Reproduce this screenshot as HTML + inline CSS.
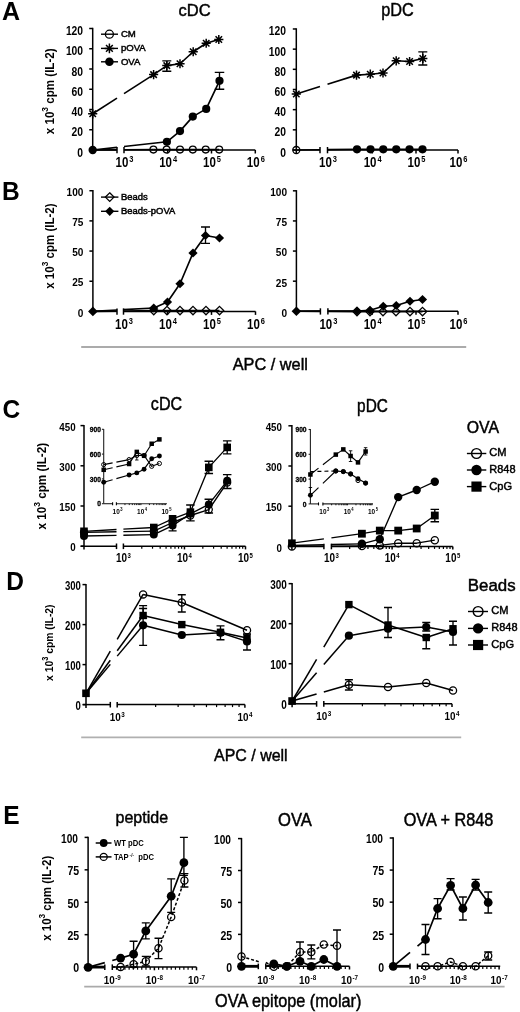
<!DOCTYPE html>
<html><head><meta charset="utf-8"><style>
html,body{margin:0;padding:0;background:#fff;}
svg{display:block;filter:grayscale(1);font-family:"Liberation Sans",sans-serif;}
</style></head><body>
<svg width="520" height="1012" viewBox="0 0 520 1012">
<rect width="520" height="1012" fill="#fff"/>
<text transform="translate(2,20.3)" font-size="25" font-weight="bold" text-anchor="start" fill="#000">A</text>
<text transform="translate(1.9,199.8) scale(0.98,1.0)" font-size="25" font-weight="bold" text-anchor="start" fill="#000">B</text>
<text transform="translate(2.4,418.2) scale(0.98,1.0)" font-size="25" font-weight="bold" text-anchor="start" fill="#000">C</text>
<text transform="translate(6.2,590.3) scale(0.98,1.0)" font-size="25" font-weight="bold" text-anchor="start" fill="#000">D</text>
<text transform="translate(3.3,823.5) scale(0.98,1.0)" font-size="25" font-weight="bold" text-anchor="start" fill="#000">E</text>
<line x1="92.7" y1="27.8" x2="92.7" y2="150" stroke="#000" stroke-width="1.5"/>
<line x1="89.2" y1="150" x2="92.7" y2="150" stroke="#000" stroke-width="1.5"/>
<line x1="89.2" y1="129.75" x2="92.7" y2="129.75" stroke="#000" stroke-width="1.5"/>
<line x1="89.2" y1="109.5" x2="92.7" y2="109.5" stroke="#000" stroke-width="1.5"/>
<line x1="89.2" y1="89.25" x2="92.7" y2="89.25" stroke="#000" stroke-width="1.5"/>
<line x1="89.2" y1="69" x2="92.7" y2="69" stroke="#000" stroke-width="1.5"/>
<line x1="89.2" y1="48.75" x2="92.7" y2="48.75" stroke="#000" stroke-width="1.5"/>
<line x1="89.2" y1="28.5" x2="92.7" y2="28.5" stroke="#000" stroke-width="1.5"/>
<text transform="translate(83.1,156.5) scale(0.86,1.0)" font-size="12" font-weight="bold" text-anchor="end" fill="#000">0</text>
<text transform="translate(83.1,136.25) scale(0.86,1.0)" font-size="12" font-weight="bold" text-anchor="end" fill="#000">20</text>
<text transform="translate(83.1,116) scale(0.86,1.0)" font-size="12" font-weight="bold" text-anchor="end" fill="#000">40</text>
<text transform="translate(83.1,95.75) scale(0.86,1.0)" font-size="12" font-weight="bold" text-anchor="end" fill="#000">60</text>
<text transform="translate(83.1,75.5) scale(0.86,1.0)" font-size="12" font-weight="bold" text-anchor="end" fill="#000">80</text>
<text transform="translate(83.1,55.25) scale(0.86,1.0)" font-size="12" font-weight="bold" text-anchor="end" fill="#000">100</text>
<text transform="translate(83.1,35) scale(0.86,1.0)" font-size="12" font-weight="bold" text-anchor="end" fill="#000">120</text>
<line x1="89.7" y1="150" x2="117" y2="150" stroke="#000" stroke-width="1.5"/>
<line x1="124" y1="150" x2="255.3" y2="150" stroke="#000" stroke-width="1.5"/>
<line x1="117" y1="147" x2="117" y2="153.3" stroke="#000" stroke-width="1.5"/>
<line x1="124" y1="147" x2="124" y2="153.3" stroke="#000" stroke-width="1.5"/>
<line x1="167.7" y1="150" x2="167.7" y2="153.5" stroke="#000" stroke-width="1.5"/>
<line x1="211.5" y1="150" x2="211.5" y2="153.5" stroke="#000" stroke-width="1.5"/>
<line x1="255.3" y1="150" x2="255.3" y2="153.5" stroke="#000" stroke-width="1.5"/>
<text transform="translate(115.52,167.35) scale(0.8,1.0)" font-size="14.4" font-weight="bold" text-anchor="start" fill="#000">10</text>
<text transform="translate(129.33,162.15) scale(0.85,1.0)" font-size="8.8" font-weight="bold" text-anchor="start" fill="#000">3</text>
<text transform="translate(159.22,167.35) scale(0.8,1.0)" font-size="14.4" font-weight="bold" text-anchor="start" fill="#000">10</text>
<text transform="translate(173.03,162.15) scale(0.85,1.0)" font-size="8.8" font-weight="bold" text-anchor="start" fill="#000">4</text>
<text transform="translate(203.02,167.35) scale(0.8,1.0)" font-size="14.4" font-weight="bold" text-anchor="start" fill="#000">10</text>
<text transform="translate(216.83,162.15) scale(0.85,1.0)" font-size="8.8" font-weight="bold" text-anchor="start" fill="#000">5</text>
<text transform="translate(246.82,167.35) scale(0.8,1.0)" font-size="14.4" font-weight="bold" text-anchor="start" fill="#000">10</text>
<text transform="translate(260.63,162.15) scale(0.85,1.0)" font-size="8.8" font-weight="bold" text-anchor="start" fill="#000">6</text>
<text transform="translate(54.2,91.3) rotate(-90)" font-size="13.6" font-weight="bold" text-anchor="middle" textLength="85.8" lengthAdjust="spacingAndGlyphs">x 10<tspan font-size="9.79" dy="-5.71">3</tspan><tspan dy="5.71"> cpm (IL-2)</tspan></text>
<text transform="translate(194.6,16.2)" font-size="16.5" stroke="#000" stroke-width="0.45" text-anchor="middle" fill="#000">cDC</text>
<polyline points="92.7,150 117,149.84" fill="none" stroke="#000" stroke-width="1.65" stroke-linejoin="round"/>
<polyline points="124,149.79 153.4,149.6" fill="none" stroke="#000" stroke-width="1.65" stroke-linejoin="round"/>
<polyline points="153.4,149.6 166.6,149.6 180,149.6 192.8,149.6 205.7,149.6 219.2,149.6" fill="none" stroke="#000" stroke-width="1.65" stroke-linejoin="round"/>
<polyline points="92.7,113.8 117,98.16" fill="none" stroke="#000" stroke-width="1.65" stroke-linejoin="round"/>
<polyline points="124,93.65 153.6,74.6" fill="none" stroke="#000" stroke-width="1.65" stroke-linejoin="round"/>
<polyline points="153.6,74.6 166.8,65.6 180,63.75 193.2,51.75 206.2,43.25 218.8,39.5" fill="none" stroke="#000" stroke-width="1.65" stroke-linejoin="round"/>
<polyline points="92.7,150 117,147.31" fill="none" stroke="#000" stroke-width="1.65" stroke-linejoin="round"/>
<polyline points="124,146.54 166.9,141.8" fill="none" stroke="#000" stroke-width="1.65" stroke-linejoin="round"/>
<polyline points="166.9,141.8 180,131.1 192.8,116.6 206.2,108.9 219.5,80.8" fill="none" stroke="#000" stroke-width="1.65" stroke-linejoin="round"/>
<path d="M166.8,60.8V71.2M162.3,60.8H171.3M162.3,71.2H171.3" stroke="#000" stroke-width="1.35" fill="none"/>
<path d="M219.5,72.3V89.2M214.75,72.3H224.25M214.75,89.2H224.25" stroke="#000" stroke-width="1.35" fill="none"/>
<circle cx="153.4" cy="149.6" r="3.4" fill="none" stroke="#000" stroke-width="1.3"/>
<circle cx="166.6" cy="149.6" r="3.4" fill="none" stroke="#000" stroke-width="1.3"/>
<circle cx="180" cy="149.6" r="3.4" fill="none" stroke="#000" stroke-width="1.3"/>
<circle cx="192.8" cy="149.6" r="3.4" fill="none" stroke="#000" stroke-width="1.3"/>
<circle cx="205.7" cy="149.6" r="3.4" fill="none" stroke="#000" stroke-width="1.3"/>
<circle cx="219.2" cy="149.6" r="3.4" fill="none" stroke="#000" stroke-width="1.3"/>
<path d="M149,74.6H158.2M153.6,70V79.2M150.35,71.35L156.85,77.85M150.35,77.85L156.85,71.35" stroke="#000" stroke-width="1.5" fill="none"/>
<path d="M162.2,65.6H171.4M166.8,61V70.2M163.55,62.35L170.05,68.85M163.55,68.85L170.05,62.35" stroke="#000" stroke-width="1.5" fill="none"/>
<path d="M175.4,63.75H184.6M180,59.15V68.35M176.75,60.5L183.25,67M176.75,67L183.25,60.5" stroke="#000" stroke-width="1.5" fill="none"/>
<path d="M188.6,51.75H197.8M193.2,47.15V56.35M189.95,48.5L196.45,55M189.95,55L196.45,48.5" stroke="#000" stroke-width="1.5" fill="none"/>
<path d="M201.6,43.25H210.8M206.2,38.65V47.85M202.95,40L209.45,46.5M202.95,46.5L209.45,40" stroke="#000" stroke-width="1.5" fill="none"/>
<path d="M214.2,39.5H223.4M218.8,34.9V44.1M215.55,36.25L222.05,42.75M215.55,42.75L222.05,36.25" stroke="#000" stroke-width="1.5" fill="none"/>
<path d="M88.1,113.8H97.3M92.7,109.2V118.4M89.45,110.55L95.95,117.05M89.45,117.05L95.95,110.55" stroke="#000" stroke-width="1.5" fill="none"/>
<circle cx="166.9" cy="141.8" r="4.1" fill="#000"/>
<circle cx="180" cy="131.1" r="4.1" fill="#000"/>
<circle cx="192.8" cy="116.6" r="4.1" fill="#000"/>
<circle cx="206.2" cy="108.9" r="4.1" fill="#000"/>
<circle cx="219.5" cy="80.8" r="4.1" fill="#000"/>
<circle cx="92.7" cy="150" r="4.2" fill="#000"/>
<line x1="101" y1="34.2" x2="118" y2="34.2" stroke="#000" stroke-width="1.4"/>
<line x1="101" y1="48.4" x2="118" y2="48.4" stroke="#000" stroke-width="1.4"/>
<line x1="101" y1="61.8" x2="118" y2="61.8" stroke="#000" stroke-width="1.4"/>
<circle cx="109.4" cy="34.2" r="4" fill="none" stroke="#000" stroke-width="1.3"/>
<path d="M104.6,48.4H114.2M109.4,43.6V53.2M106.01,45.01L112.79,51.79M106.01,51.79L112.79,45.01" stroke="#000" stroke-width="1.5" fill="none"/>
<circle cx="109.4" cy="61.8" r="4.3" fill="#000"/>
<text transform="translate(120.9,37) scale(1.03,1.0)" font-size="9.3" stroke="#000" stroke-width="0.45" text-anchor="start" fill="#000">CM</text>
<text transform="translate(120.9,51.2) scale(1.03,1.0)" font-size="9.3" stroke="#000" stroke-width="0.45" text-anchor="start" fill="#000">pOVA</text>
<text transform="translate(120.9,64.6) scale(1.03,1.0)" font-size="9.3" stroke="#000" stroke-width="0.45" text-anchor="start" fill="#000">OVA</text>
<line x1="296.3" y1="28.28" x2="296.3" y2="153.5" stroke="#000" stroke-width="1.5"/>
<line x1="292.8" y1="150" x2="296.3" y2="150" stroke="#000" stroke-width="1.5"/>
<line x1="292.8" y1="129.83" x2="296.3" y2="129.83" stroke="#000" stroke-width="1.5"/>
<line x1="292.8" y1="109.66" x2="296.3" y2="109.66" stroke="#000" stroke-width="1.5"/>
<line x1="292.8" y1="89.49" x2="296.3" y2="89.49" stroke="#000" stroke-width="1.5"/>
<line x1="292.8" y1="69.32" x2="296.3" y2="69.32" stroke="#000" stroke-width="1.5"/>
<line x1="292.8" y1="49.15" x2="296.3" y2="49.15" stroke="#000" stroke-width="1.5"/>
<line x1="292.8" y1="28.98" x2="296.3" y2="28.98" stroke="#000" stroke-width="1.5"/>
<text transform="translate(286,156.5) scale(0.86,1.0)" font-size="12" font-weight="bold" text-anchor="end" fill="#000">0</text>
<text transform="translate(286,136.33) scale(0.86,1.0)" font-size="12" font-weight="bold" text-anchor="end" fill="#000">20</text>
<text transform="translate(286,116.16) scale(0.86,1.0)" font-size="12" font-weight="bold" text-anchor="end" fill="#000">40</text>
<text transform="translate(286,95.99) scale(0.86,1.0)" font-size="12" font-weight="bold" text-anchor="end" fill="#000">60</text>
<text transform="translate(286,75.82) scale(0.86,1.0)" font-size="12" font-weight="bold" text-anchor="end" fill="#000">80</text>
<text transform="translate(286,55.65) scale(0.86,1.0)" font-size="12" font-weight="bold" text-anchor="end" fill="#000">100</text>
<text transform="translate(286,35.48) scale(0.86,1.0)" font-size="12" font-weight="bold" text-anchor="end" fill="#000">120</text>
<line x1="292.8" y1="150" x2="320" y2="150" stroke="#000" stroke-width="1.5"/>
<line x1="327.5" y1="150" x2="458" y2="150" stroke="#000" stroke-width="1.5"/>
<line x1="320" y1="147" x2="320" y2="153.3" stroke="#000" stroke-width="1.5"/>
<line x1="327.5" y1="147" x2="327.5" y2="153.3" stroke="#000" stroke-width="1.5"/>
<line x1="372.2" y1="150" x2="372.2" y2="153.5" stroke="#000" stroke-width="1.5"/>
<line x1="416" y1="150" x2="416" y2="153.5" stroke="#000" stroke-width="1.5"/>
<line x1="458" y1="150" x2="458" y2="153.5" stroke="#000" stroke-width="1.5"/>
<text transform="translate(319.02,167.35) scale(0.8,1.0)" font-size="14.4" font-weight="bold" text-anchor="start" fill="#000">10</text>
<text transform="translate(332.83,162.15) scale(0.85,1.0)" font-size="8.8" font-weight="bold" text-anchor="start" fill="#000">3</text>
<text transform="translate(363.72,167.35) scale(0.8,1.0)" font-size="14.4" font-weight="bold" text-anchor="start" fill="#000">10</text>
<text transform="translate(377.53,162.15) scale(0.85,1.0)" font-size="8.8" font-weight="bold" text-anchor="start" fill="#000">4</text>
<text transform="translate(407.52,167.35) scale(0.8,1.0)" font-size="14.4" font-weight="bold" text-anchor="start" fill="#000">10</text>
<text transform="translate(421.33,162.15) scale(0.85,1.0)" font-size="8.8" font-weight="bold" text-anchor="start" fill="#000">5</text>
<text transform="translate(449.52,167.35) scale(0.8,1.0)" font-size="14.4" font-weight="bold" text-anchor="start" fill="#000">10</text>
<text transform="translate(463.33,162.15) scale(0.85,1.0)" font-size="8.8" font-weight="bold" text-anchor="start" fill="#000">6</text>
<text transform="translate(397.5,16.3) scale(0.88,1.0)" font-size="18.5" stroke="#000" stroke-width="0.45" text-anchor="middle" fill="#000">pDC</text>
<polyline points="296.3,94 320,86.56" fill="none" stroke="#000" stroke-width="1.65" stroke-linejoin="round"/>
<polyline points="327.5,84.2 356.5,75.1" fill="none" stroke="#000" stroke-width="1.65" stroke-linejoin="round"/>
<polyline points="356.5,75.1 370.3,74.2 383,73 396.2,60.8 409.6,61.5 422.8,58.5" fill="none" stroke="#000" stroke-width="1.65" stroke-linejoin="round"/>
<path d="M422.8,51.9V65M418.3,51.9H427.3M418.3,65H427.3" stroke="#000" stroke-width="1.35" fill="none"/>
<path d="M351.9,75.1H361.1M356.5,70.5V79.7M353.25,71.85L359.75,78.35M353.25,78.35L359.75,71.85" stroke="#000" stroke-width="1.5" fill="none"/>
<path d="M365.7,74.2H374.9M370.3,69.6V78.8M367.05,70.95L373.55,77.45M367.05,77.45L373.55,70.95" stroke="#000" stroke-width="1.5" fill="none"/>
<path d="M378.4,73H387.6M383,68.4V77.6M379.75,69.75L386.25,76.25M379.75,76.25L386.25,69.75" stroke="#000" stroke-width="1.5" fill="none"/>
<path d="M391.6,60.8H400.8M396.2,56.2V65.4M392.95,57.55L399.45,64.05M392.95,64.05L399.45,57.55" stroke="#000" stroke-width="1.5" fill="none"/>
<path d="M405,61.5H414.2M409.6,56.9V66.1M406.35,58.25L412.85,64.75M406.35,64.75L412.85,58.25" stroke="#000" stroke-width="1.5" fill="none"/>
<path d="M418.2,58.5H427.4M422.8,53.9V63.1M419.55,55.25L426.05,61.75M419.55,61.75L426.05,55.25" stroke="#000" stroke-width="1.5" fill="none"/>
<path d="M291.7,94H300.9M296.3,89.4V98.6M293.05,90.75L299.55,97.25M293.05,97.25L299.55,90.75" stroke="#000" stroke-width="1.5" fill="none"/>
<polyline points="296.3,150 320,149.73" fill="none" stroke="#000" stroke-width="1.65" stroke-linejoin="round"/>
<polyline points="327.5,149.64 357,149.3" fill="none" stroke="#000" stroke-width="1.65" stroke-linejoin="round"/>
<polyline points="357,149.3 370.5,149.3 383.25,149.3 396.25,149.3 409.5,149.3 422.5,149.3" fill="none" stroke="#000" stroke-width="1.65" stroke-linejoin="round"/>
<circle cx="357" cy="149.3" r="4.1" fill="#000"/>
<circle cx="370.5" cy="149.3" r="4.1" fill="#000"/>
<circle cx="383.25" cy="149.3" r="4.1" fill="#000"/>
<circle cx="396.25" cy="149.3" r="4.1" fill="#000"/>
<circle cx="409.5" cy="149.3" r="4.1" fill="#000"/>
<circle cx="422.5" cy="149.3" r="4.1" fill="#000"/>
<circle cx="296.3" cy="150" r="3.5" fill="none" stroke="#000" stroke-width="1.3"/>
<line x1="92.9" y1="190.02" x2="92.9" y2="311.4" stroke="#000" stroke-width="1.5"/>
<line x1="89.4" y1="311.4" x2="92.9" y2="311.4" stroke="#000" stroke-width="1.5"/>
<line x1="89.4" y1="281.23" x2="92.9" y2="281.23" stroke="#000" stroke-width="1.5"/>
<line x1="89.4" y1="251.06" x2="92.9" y2="251.06" stroke="#000" stroke-width="1.5"/>
<line x1="89.4" y1="220.89" x2="92.9" y2="220.89" stroke="#000" stroke-width="1.5"/>
<line x1="89.4" y1="190.72" x2="92.9" y2="190.72" stroke="#000" stroke-width="1.5"/>
<text transform="translate(83.4,316.6) scale(0.87,1.0)" font-size="11.6" font-weight="bold" text-anchor="end" fill="#000">0</text>
<text transform="translate(83.4,286.43) scale(0.87,1.0)" font-size="11.6" font-weight="bold" text-anchor="end" fill="#000">25</text>
<text transform="translate(83.4,256.26) scale(0.87,1.0)" font-size="11.6" font-weight="bold" text-anchor="end" fill="#000">50</text>
<text transform="translate(83.4,226.09) scale(0.87,1.0)" font-size="11.6" font-weight="bold" text-anchor="end" fill="#000">75</text>
<text transform="translate(83.4,195.92) scale(0.87,1.0)" font-size="11.6" font-weight="bold" text-anchor="end" fill="#000">100</text>
<line x1="89.9" y1="311.4" x2="117" y2="311.4" stroke="#000" stroke-width="1.5"/>
<line x1="123.5" y1="311.4" x2="255.5" y2="311.4" stroke="#000" stroke-width="1.5"/>
<line x1="117" y1="308.4" x2="117" y2="314.7" stroke="#000" stroke-width="1.5"/>
<line x1="123.5" y1="308.4" x2="123.5" y2="314.7" stroke="#000" stroke-width="1.5"/>
<line x1="167.5" y1="311.4" x2="167.5" y2="314.9" stroke="#000" stroke-width="1.5"/>
<line x1="211.5" y1="311.4" x2="211.5" y2="314.9" stroke="#000" stroke-width="1.5"/>
<line x1="255.5" y1="311.4" x2="255.5" y2="314.9" stroke="#000" stroke-width="1.5"/>
<text transform="translate(115.02,329.25) scale(0.8,1.0)" font-size="14.4" font-weight="bold" text-anchor="start" fill="#000">10</text>
<text transform="translate(128.83,324.05) scale(0.85,1.0)" font-size="8.8" font-weight="bold" text-anchor="start" fill="#000">3</text>
<text transform="translate(159.02,329.25) scale(0.8,1.0)" font-size="14.4" font-weight="bold" text-anchor="start" fill="#000">10</text>
<text transform="translate(172.83,324.05) scale(0.85,1.0)" font-size="8.8" font-weight="bold" text-anchor="start" fill="#000">4</text>
<text transform="translate(203.02,329.25) scale(0.8,1.0)" font-size="14.4" font-weight="bold" text-anchor="start" fill="#000">10</text>
<text transform="translate(216.83,324.05) scale(0.85,1.0)" font-size="8.8" font-weight="bold" text-anchor="start" fill="#000">5</text>
<text transform="translate(247.02,329.25) scale(0.8,1.0)" font-size="14.4" font-weight="bold" text-anchor="start" fill="#000">10</text>
<text transform="translate(260.83,324.05) scale(0.85,1.0)" font-size="8.8" font-weight="bold" text-anchor="start" fill="#000">6</text>
<text transform="translate(54,246.1) rotate(-90)" font-size="13.6" font-weight="bold" text-anchor="middle" textLength="85.4" lengthAdjust="spacingAndGlyphs">x 10<tspan font-size="9.79" dy="-5.71">3</tspan><tspan dy="5.71"> cpm (IL-2)</tspan></text>
<polyline points="92.9,311.4 117,311.08" fill="none" stroke="#000" stroke-width="1.65" stroke-linejoin="round"/>
<polyline points="123.5,311 153.75,310.6" fill="none" stroke="#000" stroke-width="1.65" stroke-linejoin="round"/>
<polyline points="153.75,310.6 167,310.6 180,310.6 193,310.6 206,310.6 219.5,310.6" fill="none" stroke="#000" stroke-width="1.65" stroke-linejoin="round"/>
<polyline points="92.9,311.4 117,310.05" fill="none" stroke="#000" stroke-width="1.65" stroke-linejoin="round"/>
<polyline points="123.5,309.69 153.75,308" fill="none" stroke="#000" stroke-width="1.65" stroke-linejoin="round"/>
<polyline points="153.75,308 167.5,302 180,283.75 193,253 205.5,235.5 219.5,238" fill="none" stroke="#000" stroke-width="1.65" stroke-linejoin="round"/>
<path d="M205.5,227V243.4M201,227H210M201,243.4H210" stroke="#000" stroke-width="1.35" fill="none"/>
<path d="M153.75,306.4 L157.95,310.6 L153.75,314.8 L149.55,310.6 Z" fill="none" stroke="#000" stroke-width="1.3"/>
<path d="M167,306.4 L171.2,310.6 L167,314.8 L162.8,310.6 Z" fill="none" stroke="#000" stroke-width="1.3"/>
<path d="M180,306.4 L184.2,310.6 L180,314.8 L175.8,310.6 Z" fill="none" stroke="#000" stroke-width="1.3"/>
<path d="M193,306.4 L197.2,310.6 L193,314.8 L188.8,310.6 Z" fill="none" stroke="#000" stroke-width="1.3"/>
<path d="M206,306.4 L210.2,310.6 L206,314.8 L201.8,310.6 Z" fill="none" stroke="#000" stroke-width="1.3"/>
<path d="M219.5,306.4 L223.7,310.6 L219.5,314.8 L215.3,310.6 Z" fill="none" stroke="#000" stroke-width="1.3"/>
<path d="M153.75,303.4 L158.35,308 L153.75,312.6 L149.15,308 Z" fill="#000"/>
<path d="M167.5,297.4 L172.1,302 L167.5,306.6 L162.9,302 Z" fill="#000"/>
<path d="M180,279.15 L184.6,283.75 L180,288.35 L175.4,283.75 Z" fill="#000"/>
<path d="M193,248.4 L197.6,253 L193,257.6 L188.4,253 Z" fill="#000"/>
<path d="M205.5,230.9 L210.1,235.5 L205.5,240.1 L200.9,235.5 Z" fill="#000"/>
<path d="M219.5,233.4 L224.1,238 L219.5,242.6 L214.9,238 Z" fill="#000"/>
<path d="M92.9,306.6 L97.7,311.4 L92.9,316.2 L88.1,311.4 Z" fill="#000"/>
<line x1="101" y1="197.1" x2="118.4" y2="197.1" stroke="#000" stroke-width="1.4"/>
<line x1="101" y1="211.3" x2="118.4" y2="211.3" stroke="#000" stroke-width="1.4"/>
<path d="M109.7,192.8 L114,197.1 L109.7,201.4 L105.4,197.1 Z" fill="none" stroke="#000" stroke-width="1.3"/>
<path d="M109.7,206.7 L114.3,211.3 L109.7,215.9 L105.1,211.3 Z" fill="#000"/>
<text transform="translate(121,199.6) scale(1.06,1.0)" font-size="8.9" stroke="#000" stroke-width="0.45" text-anchor="start" fill="#000">Beads</text>
<text transform="translate(121,213.8) scale(1.06,1.0)" font-size="8.9" stroke="#000" stroke-width="0.45" text-anchor="start" fill="#000">Beads-pOVA</text>
<line x1="296.4" y1="190.12" x2="296.4" y2="311.3" stroke="#000" stroke-width="1.5"/>
<line x1="292.9" y1="311.3" x2="296.4" y2="311.3" stroke="#000" stroke-width="1.5"/>
<line x1="292.9" y1="281.18" x2="296.4" y2="281.18" stroke="#000" stroke-width="1.5"/>
<line x1="292.9" y1="251.06" x2="296.4" y2="251.06" stroke="#000" stroke-width="1.5"/>
<line x1="292.9" y1="220.94" x2="296.4" y2="220.94" stroke="#000" stroke-width="1.5"/>
<line x1="292.9" y1="190.82" x2="296.4" y2="190.82" stroke="#000" stroke-width="1.5"/>
<text transform="translate(287,316.7) scale(0.87,1.0)" font-size="11.6" font-weight="bold" text-anchor="end" fill="#000">0</text>
<text transform="translate(287,286.58) scale(0.87,1.0)" font-size="11.6" font-weight="bold" text-anchor="end" fill="#000">25</text>
<text transform="translate(287,256.46) scale(0.87,1.0)" font-size="11.6" font-weight="bold" text-anchor="end" fill="#000">50</text>
<text transform="translate(287,226.34) scale(0.87,1.0)" font-size="11.6" font-weight="bold" text-anchor="end" fill="#000">75</text>
<text transform="translate(287,196.22) scale(0.87,1.0)" font-size="11.6" font-weight="bold" text-anchor="end" fill="#000">100</text>
<line x1="293.4" y1="311.3" x2="320.4" y2="311.3" stroke="#000" stroke-width="1.5"/>
<line x1="327.9" y1="311.3" x2="458" y2="311.3" stroke="#000" stroke-width="1.5"/>
<line x1="320.4" y1="308.3" x2="320.4" y2="314.6" stroke="#000" stroke-width="1.5"/>
<line x1="327.9" y1="308.3" x2="327.9" y2="314.6" stroke="#000" stroke-width="1.5"/>
<line x1="372.2" y1="311.3" x2="372.2" y2="314.8" stroke="#000" stroke-width="1.5"/>
<line x1="416" y1="311.3" x2="416" y2="314.8" stroke="#000" stroke-width="1.5"/>
<line x1="458" y1="311.3" x2="458" y2="314.8" stroke="#000" stroke-width="1.5"/>
<text transform="translate(319.42,329.25) scale(0.8,1.0)" font-size="14.4" font-weight="bold" text-anchor="start" fill="#000">10</text>
<text transform="translate(333.23,324.05) scale(0.85,1.0)" font-size="8.8" font-weight="bold" text-anchor="start" fill="#000">3</text>
<text transform="translate(363.72,329.25) scale(0.8,1.0)" font-size="14.4" font-weight="bold" text-anchor="start" fill="#000">10</text>
<text transform="translate(377.53,324.05) scale(0.85,1.0)" font-size="8.8" font-weight="bold" text-anchor="start" fill="#000">4</text>
<text transform="translate(407.52,329.25) scale(0.8,1.0)" font-size="14.4" font-weight="bold" text-anchor="start" fill="#000">10</text>
<text transform="translate(421.33,324.05) scale(0.85,1.0)" font-size="8.8" font-weight="bold" text-anchor="start" fill="#000">5</text>
<text transform="translate(449.52,329.25) scale(0.8,1.0)" font-size="14.4" font-weight="bold" text-anchor="start" fill="#000">10</text>
<text transform="translate(463.33,324.05) scale(0.85,1.0)" font-size="8.8" font-weight="bold" text-anchor="start" fill="#000">6</text>
<polyline points="296.4,311.3 320.4,311.42" fill="none" stroke="#000" stroke-width="1.65" stroke-linejoin="round"/>
<polyline points="327.9,311.46 357,311.6" fill="none" stroke="#000" stroke-width="1.65" stroke-linejoin="round"/>
<polyline points="357,311.6 370,311.6 383,311.6 396,311.6 410,311.6 422.5,311.6" fill="none" stroke="#000" stroke-width="1.65" stroke-linejoin="round"/>
<polyline points="296.4,311.3 320.4,311.18" fill="none" stroke="#000" stroke-width="1.65" stroke-linejoin="round"/>
<polyline points="327.9,311.14 357,311" fill="none" stroke="#000" stroke-width="1.65" stroke-linejoin="round"/>
<polyline points="357,311 370,310.3 383.25,306.25 396.25,305.5 410,301.25 422.5,299.5" fill="none" stroke="#000" stroke-width="1.65" stroke-linejoin="round"/>
<path d="M357,307.4 L361.2,311.6 L357,315.8 L352.8,311.6 Z" fill="none" stroke="#000" stroke-width="1.3"/>
<path d="M370,307.4 L374.2,311.6 L370,315.8 L365.8,311.6 Z" fill="none" stroke="#000" stroke-width="1.3"/>
<path d="M383,307.4 L387.2,311.6 L383,315.8 L378.8,311.6 Z" fill="none" stroke="#000" stroke-width="1.3"/>
<path d="M396,307.4 L400.2,311.6 L396,315.8 L391.8,311.6 Z" fill="none" stroke="#000" stroke-width="1.3"/>
<path d="M410,307.4 L414.2,311.6 L410,315.8 L405.8,311.6 Z" fill="none" stroke="#000" stroke-width="1.3"/>
<path d="M422.5,307.4 L426.7,311.6 L422.5,315.8 L418.3,311.6 Z" fill="none" stroke="#000" stroke-width="1.3"/>
<path d="M357,306.4 L361.6,311 L357,315.6 L352.4,311 Z" fill="#000"/>
<path d="M370,305.7 L374.6,310.3 L370,314.9 L365.4,310.3 Z" fill="#000"/>
<path d="M383.25,301.65 L387.85,306.25 L383.25,310.85 L378.65,306.25 Z" fill="#000"/>
<path d="M396.25,300.9 L400.85,305.5 L396.25,310.1 L391.65,305.5 Z" fill="#000"/>
<path d="M410,296.65 L414.6,301.25 L410,305.85 L405.4,301.25 Z" fill="#000"/>
<path d="M422.5,294.9 L427.1,299.5 L422.5,304.1 L417.9,299.5 Z" fill="#000"/>
<path d="M296.4,306.5 L301.2,311.3 L296.4,316.1 L291.6,311.3 Z" fill="#000"/>
<line x1="81.2" y1="346.9" x2="466.2" y2="346.9" stroke="#ababab" stroke-width="2.0"/>
<text transform="translate(270.3,370) scale(0.96,1.0)" font-size="17" stroke="#000" stroke-width="0.45" text-anchor="middle" fill="#000">APC / well</text>
<line x1="84" y1="424.9" x2="84" y2="549.6" stroke="#000" stroke-width="1.5"/>
<line x1="80.5" y1="546.2" x2="84" y2="546.2" stroke="#000" stroke-width="1.5"/>
<line x1="80.5" y1="506" x2="84" y2="506" stroke="#000" stroke-width="1.5"/>
<line x1="80.5" y1="465.8" x2="84" y2="465.8" stroke="#000" stroke-width="1.5"/>
<line x1="80.5" y1="425.6" x2="84" y2="425.6" stroke="#000" stroke-width="1.5"/>
<text transform="translate(75.6,551.3) scale(0.83,1.0)" font-size="11.8" font-weight="bold" text-anchor="end" fill="#000">0</text>
<text transform="translate(75.6,511.1) scale(0.83,1.0)" font-size="11.8" font-weight="bold" text-anchor="end" fill="#000">150</text>
<text transform="translate(75.6,470.9) scale(0.83,1.0)" font-size="11.8" font-weight="bold" text-anchor="end" fill="#000">300</text>
<text transform="translate(75.6,430.7) scale(0.83,1.0)" font-size="11.8" font-weight="bold" text-anchor="end" fill="#000">450</text>
<line x1="80.8" y1="546.2" x2="116.5" y2="546.2" stroke="#000" stroke-width="1.5"/>
<line x1="123.4" y1="546.2" x2="245.5" y2="546.2" stroke="#000" stroke-width="1.5"/>
<line x1="116.5" y1="543.5" x2="116.5" y2="549.1" stroke="#000" stroke-width="1.5"/>
<line x1="123.4" y1="543.5" x2="123.4" y2="549.1" stroke="#000" stroke-width="1.5"/>
<line x1="141.78" y1="546.2" x2="141.78" y2="548.7" stroke="#000" stroke-width="1.2"/>
<line x1="152.53" y1="546.2" x2="152.53" y2="548.7" stroke="#000" stroke-width="1.2"/>
<line x1="160.16" y1="546.2" x2="160.16" y2="548.7" stroke="#000" stroke-width="1.2"/>
<line x1="166.07" y1="546.2" x2="166.07" y2="548.7" stroke="#000" stroke-width="1.2"/>
<line x1="170.91" y1="546.2" x2="170.91" y2="548.7" stroke="#000" stroke-width="1.2"/>
<line x1="174.99" y1="546.2" x2="174.99" y2="548.7" stroke="#000" stroke-width="1.2"/>
<line x1="178.53" y1="546.2" x2="178.53" y2="548.7" stroke="#000" stroke-width="1.2"/>
<line x1="181.66" y1="546.2" x2="181.66" y2="548.7" stroke="#000" stroke-width="1.2"/>
<line x1="202.83" y1="546.2" x2="202.83" y2="548.7" stroke="#000" stroke-width="1.2"/>
<line x1="213.58" y1="546.2" x2="213.58" y2="548.7" stroke="#000" stroke-width="1.2"/>
<line x1="221.21" y1="546.2" x2="221.21" y2="548.7" stroke="#000" stroke-width="1.2"/>
<line x1="227.12" y1="546.2" x2="227.12" y2="548.7" stroke="#000" stroke-width="1.2"/>
<line x1="231.96" y1="546.2" x2="231.96" y2="548.7" stroke="#000" stroke-width="1.2"/>
<line x1="236.04" y1="546.2" x2="236.04" y2="548.7" stroke="#000" stroke-width="1.2"/>
<line x1="239.58" y1="546.2" x2="239.58" y2="548.7" stroke="#000" stroke-width="1.2"/>
<line x1="242.71" y1="546.2" x2="242.71" y2="548.7" stroke="#000" stroke-width="1.2"/>
<line x1="184.45" y1="546.2" x2="184.45" y2="549.4" stroke="#000" stroke-width="1.5"/>
<line x1="245.5" y1="546.2" x2="245.5" y2="549.4" stroke="#000" stroke-width="1.5"/>
<text transform="translate(115.97,562) scale(0.8,1.0)" font-size="12.4" font-weight="bold" text-anchor="start" fill="#000">10</text>
<text transform="translate(127.5,557.7) scale(0.8,1.0)" font-size="7.5" font-weight="bold" text-anchor="start" fill="#000">3</text>
<text transform="translate(177.02,562) scale(0.8,1.0)" font-size="12.4" font-weight="bold" text-anchor="start" fill="#000">10</text>
<text transform="translate(188.55,557.7) scale(0.8,1.0)" font-size="7.5" font-weight="bold" text-anchor="start" fill="#000">4</text>
<text transform="translate(238.07,562) scale(0.8,1.0)" font-size="12.4" font-weight="bold" text-anchor="start" fill="#000">10</text>
<text transform="translate(249.6,557.7) scale(0.8,1.0)" font-size="7.5" font-weight="bold" text-anchor="start" fill="#000">5</text>
<text transform="translate(45.9,486.2) rotate(-90)" font-size="13.6" font-weight="bold" text-anchor="middle" textLength="86.5" lengthAdjust="spacingAndGlyphs">x 10<tspan font-size="9.79" dy="-5.71">3</tspan><tspan dy="5.71"> cpm (IL-2)</tspan></text>
<text transform="translate(166.5,410) scale(0.92,1.0)" font-size="17.5" stroke="#000" stroke-width="0.45" text-anchor="middle" fill="#000">cDC</text>
<polyline points="84,531.3 116.5,529.53" fill="none" stroke="#000" stroke-width="1.35" stroke-linejoin="round"/>
<polyline points="123.4,529.16 153.8,527.5" fill="none" stroke="#000" stroke-width="1.35" stroke-linejoin="round"/>
<polyline points="153.8,527.5 172.6,518.8 190.4,512.1 208.8,467.4 227.2,447.4" fill="none" stroke="#000" stroke-width="1.35" stroke-linejoin="round"/>
<polyline points="84,532.3 116.5,531.79" fill="none" stroke="#000" stroke-width="1.35" stroke-linejoin="round"/>
<polyline points="123.4,531.68 153.8,531.2" fill="none" stroke="#000" stroke-width="1.35" stroke-linejoin="round"/>
<polyline points="153.8,531.2 172.6,522.5 190.4,515.5 208.8,509.6 227.2,482.5" fill="none" stroke="#000" stroke-width="1.35" stroke-linejoin="round"/>
<polyline points="84,536 116.5,535.35" fill="none" stroke="#000" stroke-width="1.35" stroke-linejoin="round"/>
<polyline points="123.4,535.21 153.8,534.6" fill="none" stroke="#000" stroke-width="1.35" stroke-linejoin="round"/>
<polyline points="153.8,534.6 172.6,525.6 190.4,513.8 208.8,504.4 227.2,480.8" fill="none" stroke="#000" stroke-width="1.35" stroke-linejoin="round"/>
<path d="M190.4,505V520.8M186.15,505H194.65M186.15,520.8H194.65" stroke="#000" stroke-width="1.35" fill="none"/>
<path d="M208.8,461.2V473.5M204.55,461.2H213.05M204.55,473.5H213.05" stroke="#000" stroke-width="1.35" fill="none"/>
<path d="M227.2,440.8V453.8M222.95,440.8H231.45M222.95,453.8H231.45" stroke="#000" stroke-width="1.35" fill="none"/>
<path d="M208.8,499.2V513M204.55,499.2H213.05M204.55,513H213.05" stroke="#000" stroke-width="1.35" fill="none"/>
<path d="M227.2,474.6V488.5M222.95,474.6H231.45M222.95,488.5H231.45" stroke="#000" stroke-width="1.35" fill="none"/>
<path d="M172.6,520V530.8M168.6,520H176.6M168.6,530.8H176.6" stroke="#000" stroke-width="1.35" fill="none"/>
<circle cx="153.8" cy="531.2" r="3.5" fill="none" stroke="#000" stroke-width="1.3"/>
<circle cx="172.6" cy="522.5" r="3.5" fill="none" stroke="#000" stroke-width="1.3"/>
<circle cx="190.4" cy="515.5" r="3.5" fill="none" stroke="#000" stroke-width="1.3"/>
<circle cx="208.8" cy="509.6" r="3.5" fill="none" stroke="#000" stroke-width="1.3"/>
<circle cx="227.2" cy="482.5" r="3.5" fill="none" stroke="#000" stroke-width="1.3"/>
<circle cx="153.8" cy="534.6" r="4" fill="#000"/>
<circle cx="172.6" cy="525.6" r="4" fill="#000"/>
<circle cx="190.4" cy="513.8" r="4" fill="#000"/>
<circle cx="208.8" cy="504.4" r="4" fill="#000"/>
<circle cx="227.2" cy="480.8" r="4" fill="#000"/>
<rect x="150" y="523.7" width="7.6" height="7.6" fill="#000"/>
<rect x="168.8" y="515" width="7.6" height="7.6" fill="#000"/>
<rect x="186.6" y="508.3" width="7.6" height="7.6" fill="#000"/>
<rect x="205" y="463.6" width="7.6" height="7.6" fill="#000"/>
<rect x="223.4" y="443.6" width="7.6" height="7.6" fill="#000"/>
<rect x="80.2" y="527.5" width="7.6" height="7.6" fill="#000"/>
<circle cx="84" cy="536" r="4" fill="#000"/>
<circle cx="84" cy="532.3" r="3.5" fill="none" stroke="#000" stroke-width="1.3"/>
<line x1="103.7" y1="428.9" x2="103.7" y2="503.7" stroke="#222" stroke-width="1.1"/>
<line x1="101.9" y1="503.7" x2="103.7" y2="503.7" stroke="#222" stroke-width="1.1"/>
<line x1="101.9" y1="478.9" x2="103.7" y2="478.9" stroke="#222" stroke-width="1.1"/>
<line x1="101.9" y1="454.1" x2="103.7" y2="454.1" stroke="#222" stroke-width="1.1"/>
<line x1="101.9" y1="429.3" x2="103.7" y2="429.3" stroke="#222" stroke-width="1.1"/>
<text transform="translate(101,506.4) scale(0.86,1.0)" font-size="7.8" font-weight="bold" stroke="#000" stroke-width="0.35" text-anchor="end" fill="#000">0</text>
<text transform="translate(101,481.6) scale(0.86,1.0)" font-size="7.8" font-weight="bold" stroke="#000" stroke-width="0.35" text-anchor="end" fill="#000">300</text>
<text transform="translate(101,456.8) scale(0.86,1.0)" font-size="7.8" font-weight="bold" stroke="#000" stroke-width="0.35" text-anchor="end" fill="#000">600</text>
<text transform="translate(101,432) scale(0.86,1.0)" font-size="7.8" font-weight="bold" stroke="#000" stroke-width="0.35" text-anchor="end" fill="#000">900</text>
<line x1="103.7" y1="503.7" x2="112.6" y2="503.7" stroke="#222" stroke-width="1.1"/>
<line x1="116.4" y1="503.7" x2="167" y2="503.7" stroke="#222" stroke-width="1.1"/>
<line x1="112.6" y1="502.2" x2="112.6" y2="505.2" stroke="#000" stroke-width="1.1"/>
<line x1="116.4" y1="502.2" x2="116.4" y2="505.2" stroke="#000" stroke-width="1.1"/>
<line x1="124.96" y1="503.7" x2="124.96" y2="505.1" stroke="#000" stroke-width="0.9"/>
<line x1="129.27" y1="503.7" x2="129.27" y2="505.1" stroke="#000" stroke-width="0.9"/>
<line x1="132.32" y1="503.7" x2="132.32" y2="505.1" stroke="#000" stroke-width="0.9"/>
<line x1="134.69" y1="503.7" x2="134.69" y2="505.1" stroke="#000" stroke-width="0.9"/>
<line x1="136.63" y1="503.7" x2="136.63" y2="505.1" stroke="#000" stroke-width="0.9"/>
<line x1="138.26" y1="503.7" x2="138.26" y2="505.1" stroke="#000" stroke-width="0.9"/>
<line x1="139.68" y1="503.7" x2="139.68" y2="505.1" stroke="#000" stroke-width="0.9"/>
<line x1="140.93" y1="503.7" x2="140.93" y2="505.1" stroke="#000" stroke-width="0.9"/>
<line x1="149.41" y1="503.7" x2="149.41" y2="505.1" stroke="#000" stroke-width="0.9"/>
<line x1="153.72" y1="503.7" x2="153.72" y2="505.1" stroke="#000" stroke-width="0.9"/>
<line x1="156.77" y1="503.7" x2="156.77" y2="505.1" stroke="#000" stroke-width="0.9"/>
<line x1="159.14" y1="503.7" x2="159.14" y2="505.1" stroke="#000" stroke-width="0.9"/>
<line x1="161.08" y1="503.7" x2="161.08" y2="505.1" stroke="#000" stroke-width="0.9"/>
<line x1="162.71" y1="503.7" x2="162.71" y2="505.1" stroke="#000" stroke-width="0.9"/>
<line x1="164.13" y1="503.7" x2="164.13" y2="505.1" stroke="#000" stroke-width="0.9"/>
<line x1="165.38" y1="503.7" x2="165.38" y2="505.1" stroke="#000" stroke-width="0.9"/>
<text transform="translate(112.6,513.6) scale(0.9,1.0)" font-size="7.2" font-weight="bold" text-anchor="start" fill="#000">10</text>
<text transform="translate(120.3,511) scale(0.9,1.0)" font-size="4.6" font-weight="bold" text-anchor="start" fill="#000">3</text>
<text transform="translate(137.05,513.6) scale(0.9,1.0)" font-size="7.2" font-weight="bold" text-anchor="start" fill="#000">10</text>
<text transform="translate(144.75,511) scale(0.9,1.0)" font-size="4.6" font-weight="bold" text-anchor="start" fill="#000">4</text>
<text transform="translate(161.5,513.6) scale(0.9,1.0)" font-size="7.2" font-weight="bold" text-anchor="start" fill="#000">10</text>
<text transform="translate(169.2,511) scale(0.9,1.0)" font-size="4.6" font-weight="bold" text-anchor="start" fill="#000">5</text>
<polyline points="103.7,469.8 112.6,467.77" fill="none" stroke="#000" stroke-width="1.15" stroke-linejoin="round"/>
<polyline points="116.4,466.9 129.1,464" fill="none" stroke="#000" stroke-width="1.15" stroke-linejoin="round"/>
<polyline points="129.1,464 136.8,451.9 144.1,455.8 151.7,443.75 159.4,439.4" fill="none" stroke="#000" stroke-width="1.15" stroke-linejoin="round"/>
<polyline points="103.7,464.6 112.6,462.85" fill="none" stroke="#000" stroke-width="1.15" stroke-linejoin="round"/>
<polyline points="116.4,462.1 129.1,459.6" fill="none" stroke="#000" stroke-width="1.15" stroke-linejoin="round"/>
<polyline points="129.1,459.6 136.8,455.5 144.1,455.5 151.7,466.3 159.4,463.5" fill="none" stroke="#000" stroke-width="1.15" stroke-linejoin="round"/>
<polyline points="103.7,482.3 112.6,479.74" fill="none" stroke="#000" stroke-width="1.15" stroke-linejoin="round"/>
<polyline points="116.4,478.65 129.1,475" fill="none" stroke="#000" stroke-width="1.15" stroke-linejoin="round"/>
<polyline points="129.1,475 136.8,472.9 144.1,469.2 151.7,458.7 159.4,456" fill="none" stroke="#000" stroke-width="1.15" stroke-linejoin="round"/>
<path d="M136.8,455.5V460M135.05,455.5H138.55M135.05,460H138.55" stroke="#000" stroke-width="0.9" fill="none"/>
<circle cx="129.1" cy="459.6" r="2.1" fill="none" stroke="#000" stroke-width="1.0"/>
<circle cx="136.8" cy="455.5" r="2.1" fill="none" stroke="#000" stroke-width="1.0"/>
<circle cx="144.1" cy="455.5" r="2.1" fill="none" stroke="#000" stroke-width="1.0"/>
<circle cx="151.7" cy="466.3" r="2.1" fill="none" stroke="#000" stroke-width="1.0"/>
<circle cx="159.4" cy="463.5" r="2.1" fill="none" stroke="#000" stroke-width="1.0"/>
<circle cx="129.1" cy="475" r="2.45" fill="#000"/>
<circle cx="136.8" cy="472.9" r="2.45" fill="#000"/>
<circle cx="144.1" cy="469.2" r="2.45" fill="#000"/>
<circle cx="151.7" cy="458.7" r="2.45" fill="#000"/>
<circle cx="159.4" cy="456" r="2.45" fill="#000"/>
<rect x="126.85" y="461.75" width="4.5" height="4.5" fill="#000"/>
<rect x="134.55" y="449.65" width="4.5" height="4.5" fill="#000"/>
<rect x="141.85" y="453.55" width="4.5" height="4.5" fill="#000"/>
<rect x="149.45" y="441.5" width="4.5" height="4.5" fill="#000"/>
<rect x="157.15" y="437.15" width="4.5" height="4.5" fill="#000"/>
<circle cx="103.7" cy="464.6" r="2.1" fill="none" stroke="#000" stroke-width="1.0"/>
<rect x="101.45" y="467.55" width="4.5" height="4.5" fill="#000"/>
<circle cx="103.7" cy="482.3" r="2.45" fill="#000"/>
<line x1="291.9" y1="425.1" x2="291.9" y2="549.8" stroke="#000" stroke-width="1.5"/>
<line x1="288.4" y1="546.4" x2="291.9" y2="546.4" stroke="#000" stroke-width="1.5"/>
<line x1="288.4" y1="506.2" x2="291.9" y2="506.2" stroke="#000" stroke-width="1.5"/>
<line x1="288.4" y1="466" x2="291.9" y2="466" stroke="#000" stroke-width="1.5"/>
<line x1="288.4" y1="425.8" x2="291.9" y2="425.8" stroke="#000" stroke-width="1.5"/>
<text transform="translate(282,551.5) scale(0.83,1.0)" font-size="11.8" font-weight="bold" text-anchor="end" fill="#000">0</text>
<text transform="translate(282,511.3) scale(0.83,1.0)" font-size="11.8" font-weight="bold" text-anchor="end" fill="#000">150</text>
<text transform="translate(282,471.1) scale(0.83,1.0)" font-size="11.8" font-weight="bold" text-anchor="end" fill="#000">300</text>
<text transform="translate(282,430.9) scale(0.83,1.0)" font-size="11.8" font-weight="bold" text-anchor="end" fill="#000">450</text>
<line x1="288.7" y1="546.4" x2="323.9" y2="546.4" stroke="#000" stroke-width="1.5"/>
<line x1="331.4" y1="546.4" x2="452.8" y2="546.4" stroke="#000" stroke-width="1.5"/>
<line x1="323.9" y1="543.7" x2="323.9" y2="549.3" stroke="#000" stroke-width="1.5"/>
<line x1="331.4" y1="543.7" x2="331.4" y2="549.3" stroke="#000" stroke-width="1.5"/>
<line x1="349.67" y1="546.4" x2="349.67" y2="548.9" stroke="#000" stroke-width="1.2"/>
<line x1="360.36" y1="546.4" x2="360.36" y2="548.9" stroke="#000" stroke-width="1.2"/>
<line x1="367.95" y1="546.4" x2="367.95" y2="548.9" stroke="#000" stroke-width="1.2"/>
<line x1="373.83" y1="546.4" x2="373.83" y2="548.9" stroke="#000" stroke-width="1.2"/>
<line x1="378.63" y1="546.4" x2="378.63" y2="548.9" stroke="#000" stroke-width="1.2"/>
<line x1="382.7" y1="546.4" x2="382.7" y2="548.9" stroke="#000" stroke-width="1.2"/>
<line x1="386.22" y1="546.4" x2="386.22" y2="548.9" stroke="#000" stroke-width="1.2"/>
<line x1="389.32" y1="546.4" x2="389.32" y2="548.9" stroke="#000" stroke-width="1.2"/>
<line x1="410.37" y1="546.4" x2="410.37" y2="548.9" stroke="#000" stroke-width="1.2"/>
<line x1="421.06" y1="546.4" x2="421.06" y2="548.9" stroke="#000" stroke-width="1.2"/>
<line x1="428.65" y1="546.4" x2="428.65" y2="548.9" stroke="#000" stroke-width="1.2"/>
<line x1="434.53" y1="546.4" x2="434.53" y2="548.9" stroke="#000" stroke-width="1.2"/>
<line x1="439.33" y1="546.4" x2="439.33" y2="548.9" stroke="#000" stroke-width="1.2"/>
<line x1="443.4" y1="546.4" x2="443.4" y2="548.9" stroke="#000" stroke-width="1.2"/>
<line x1="446.92" y1="546.4" x2="446.92" y2="548.9" stroke="#000" stroke-width="1.2"/>
<line x1="450.02" y1="546.4" x2="450.02" y2="548.9" stroke="#000" stroke-width="1.2"/>
<line x1="392.1" y1="546.4" x2="392.1" y2="549.6" stroke="#000" stroke-width="1.5"/>
<line x1="452.8" y1="546.4" x2="452.8" y2="549.6" stroke="#000" stroke-width="1.5"/>
<text transform="translate(323.97,562) scale(0.8,1.0)" font-size="12.4" font-weight="bold" text-anchor="start" fill="#000">10</text>
<text transform="translate(335.5,557.7) scale(0.8,1.0)" font-size="7.5" font-weight="bold" text-anchor="start" fill="#000">3</text>
<text transform="translate(384.67,562) scale(0.8,1.0)" font-size="12.4" font-weight="bold" text-anchor="start" fill="#000">10</text>
<text transform="translate(396.2,557.7) scale(0.8,1.0)" font-size="7.5" font-weight="bold" text-anchor="start" fill="#000">4</text>
<text transform="translate(445.37,562) scale(0.8,1.0)" font-size="12.4" font-weight="bold" text-anchor="start" fill="#000">10</text>
<text transform="translate(456.9,557.7) scale(0.8,1.0)" font-size="7.5" font-weight="bold" text-anchor="start" fill="#000">5</text>
<text transform="translate(372.5,412.3) scale(0.88,1.0)" font-size="17.5" stroke="#000" stroke-width="0.45" text-anchor="middle" fill="#000">pDC</text>
<polyline points="291.9,543.2 323.9,538.86" fill="none" stroke="#000" stroke-width="1.35" stroke-linejoin="round"/>
<polyline points="331.4,537.84 361.9,533.7" fill="none" stroke="#000" stroke-width="1.35" stroke-linejoin="round"/>
<polyline points="361.9,533.7 379.8,530.6 398.2,530.6 416.7,528.5 434.8,515.5" fill="none" stroke="#000" stroke-width="1.35" stroke-linejoin="round"/>
<polyline points="291.9,545.5 323.9,544.72" fill="none" stroke="#000" stroke-width="1.35" stroke-linejoin="round"/>
<polyline points="331.4,544.54 361.9,543.8" fill="none" stroke="#000" stroke-width="1.35" stroke-linejoin="round"/>
<polyline points="361.9,543.8 379.8,539.2 398.2,497.1 416.7,490 434.8,481.7" fill="none" stroke="#000" stroke-width="1.35" stroke-linejoin="round"/>
<polyline points="291.9,546.4 323.9,546.22" fill="none" stroke="#000" stroke-width="1.35" stroke-linejoin="round"/>
<polyline points="331.4,546.17 361.9,546" fill="none" stroke="#000" stroke-width="1.35" stroke-linejoin="round"/>
<polyline points="361.9,546 379.8,545.4 398.2,543.2 416.7,543.2 434.8,540.2" fill="none" stroke="#000" stroke-width="1.35" stroke-linejoin="round"/>
<path d="M434.8,509.4V521.7M430.55,509.4H439.05M430.55,521.7H439.05" stroke="#000" stroke-width="1.35" fill="none"/>
<circle cx="361.9" cy="546" r="3.6" fill="none" stroke="#000" stroke-width="1.3"/>
<circle cx="379.8" cy="545.4" r="3.6" fill="none" stroke="#000" stroke-width="1.3"/>
<circle cx="398.2" cy="543.2" r="3.6" fill="none" stroke="#000" stroke-width="1.3"/>
<circle cx="416.7" cy="543.2" r="3.6" fill="none" stroke="#000" stroke-width="1.3"/>
<circle cx="434.8" cy="540.2" r="3.6" fill="none" stroke="#000" stroke-width="1.3"/>
<circle cx="361.9" cy="543.8" r="4.2" fill="#000"/>
<circle cx="379.8" cy="539.2" r="4.2" fill="#000"/>
<circle cx="398.2" cy="497.1" r="4.2" fill="#000"/>
<circle cx="416.7" cy="490" r="4.2" fill="#000"/>
<circle cx="434.8" cy="481.7" r="4.2" fill="#000"/>
<rect x="358" y="529.8" width="7.8" height="7.8" fill="#000"/>
<rect x="375.9" y="526.7" width="7.8" height="7.8" fill="#000"/>
<rect x="394.3" y="526.7" width="7.8" height="7.8" fill="#000"/>
<rect x="412.8" y="524.6" width="7.8" height="7.8" fill="#000"/>
<rect x="430.9" y="511.6" width="7.8" height="7.8" fill="#000"/>
<circle cx="291.9" cy="546.4" r="3.6" fill="none" stroke="#000" stroke-width="1.3"/>
<rect x="288.1" y="539.4" width="7.6" height="7.6" fill="#000"/>
<line x1="310.4" y1="429.1" x2="310.4" y2="503.9" stroke="#222" stroke-width="1.1"/>
<line x1="308.6" y1="503.9" x2="310.4" y2="503.9" stroke="#222" stroke-width="1.1"/>
<line x1="308.6" y1="479.1" x2="310.4" y2="479.1" stroke="#222" stroke-width="1.1"/>
<line x1="308.6" y1="454.3" x2="310.4" y2="454.3" stroke="#222" stroke-width="1.1"/>
<line x1="308.6" y1="429.5" x2="310.4" y2="429.5" stroke="#222" stroke-width="1.1"/>
<text transform="translate(306.6,506.6) scale(0.86,1.0)" font-size="7.8" font-weight="bold" stroke="#000" stroke-width="0.35" text-anchor="end" fill="#000">0</text>
<text transform="translate(306.6,481.8) scale(0.86,1.0)" font-size="7.8" font-weight="bold" stroke="#000" stroke-width="0.35" text-anchor="end" fill="#000">300</text>
<text transform="translate(306.6,457) scale(0.86,1.0)" font-size="7.8" font-weight="bold" stroke="#000" stroke-width="0.35" text-anchor="end" fill="#000">600</text>
<text transform="translate(306.6,432.2) scale(0.86,1.0)" font-size="7.8" font-weight="bold" stroke="#000" stroke-width="0.35" text-anchor="end" fill="#000">900</text>
<line x1="310.4" y1="503.9" x2="318.5" y2="503.9" stroke="#222" stroke-width="1.1"/>
<line x1="322.9" y1="503.9" x2="373" y2="503.9" stroke="#222" stroke-width="1.1"/>
<line x1="318.5" y1="502.4" x2="318.5" y2="505.4" stroke="#000" stroke-width="1.1"/>
<line x1="322.9" y1="502.4" x2="322.9" y2="505.4" stroke="#000" stroke-width="1.1"/>
<line x1="331.63" y1="503.9" x2="331.63" y2="505.3" stroke="#000" stroke-width="0.9"/>
<line x1="335.92" y1="503.9" x2="335.92" y2="505.3" stroke="#000" stroke-width="0.9"/>
<line x1="338.96" y1="503.9" x2="338.96" y2="505.3" stroke="#000" stroke-width="0.9"/>
<line x1="341.32" y1="503.9" x2="341.32" y2="505.3" stroke="#000" stroke-width="0.9"/>
<line x1="343.25" y1="503.9" x2="343.25" y2="505.3" stroke="#000" stroke-width="0.9"/>
<line x1="344.88" y1="503.9" x2="344.88" y2="505.3" stroke="#000" stroke-width="0.9"/>
<line x1="346.29" y1="503.9" x2="346.29" y2="505.3" stroke="#000" stroke-width="0.9"/>
<line x1="347.54" y1="503.9" x2="347.54" y2="505.3" stroke="#000" stroke-width="0.9"/>
<line x1="355.98" y1="503.9" x2="355.98" y2="505.3" stroke="#000" stroke-width="0.9"/>
<line x1="360.27" y1="503.9" x2="360.27" y2="505.3" stroke="#000" stroke-width="0.9"/>
<line x1="363.31" y1="503.9" x2="363.31" y2="505.3" stroke="#000" stroke-width="0.9"/>
<line x1="365.67" y1="503.9" x2="365.67" y2="505.3" stroke="#000" stroke-width="0.9"/>
<line x1="367.6" y1="503.9" x2="367.6" y2="505.3" stroke="#000" stroke-width="0.9"/>
<line x1="369.23" y1="503.9" x2="369.23" y2="505.3" stroke="#000" stroke-width="0.9"/>
<line x1="370.64" y1="503.9" x2="370.64" y2="505.3" stroke="#000" stroke-width="0.9"/>
<line x1="371.89" y1="503.9" x2="371.89" y2="505.3" stroke="#000" stroke-width="0.9"/>
<text transform="translate(319.3,513.8) scale(0.9,1.0)" font-size="7.2" font-weight="bold" text-anchor="start" fill="#000">10</text>
<text transform="translate(327,511.2) scale(0.9,1.0)" font-size="4.6" font-weight="bold" text-anchor="start" fill="#000">3</text>
<text transform="translate(343.65,513.8) scale(0.9,1.0)" font-size="7.2" font-weight="bold" text-anchor="start" fill="#000">10</text>
<text transform="translate(351.35,511.2) scale(0.9,1.0)" font-size="4.6" font-weight="bold" text-anchor="start" fill="#000">4</text>
<text transform="translate(368,513.8) scale(0.9,1.0)" font-size="7.2" font-weight="bold" text-anchor="start" fill="#000">10</text>
<text transform="translate(375.7,511.2) scale(0.9,1.0)" font-size="4.6" font-weight="bold" text-anchor="start" fill="#000">5</text>
<polyline points="310.4,474.5 318.5,468.15" fill="none" stroke="#000" stroke-width="1.15" stroke-linejoin="round"/>
<polyline points="322.9,464.71 335.8,454.6" fill="none" stroke="#000" stroke-width="1.15" stroke-linejoin="round"/>
<polyline points="335.8,454.6 343.3,449.4 350.6,456 358,462.4 365.6,451.5" fill="none" stroke="#000" stroke-width="1.15" stroke-linejoin="round"/>
<polyline points="310.4,495.3 318.5,487.55" fill="none" stroke="#000" stroke-width="1.15" stroke-linejoin="round"/>
<polyline points="322.9,483.34 335.8,471" fill="none" stroke="#000" stroke-width="1.15" stroke-linejoin="round"/>
<polyline points="335.8,471 343.3,471.6 350.6,474 358,478.8 365.6,483.1" fill="none" stroke="#000" stroke-width="1.15" stroke-linejoin="round"/>
<polyline points="310.4,471.6 335.8,471" fill="none" stroke="#000" stroke-width="1.15" stroke-linejoin="round" stroke-dasharray="4,3"/>
<path d="M350.6,450.8V461.5M348.85,450.8H352.35M348.85,461.5H352.35" stroke="#000" stroke-width="0.9" fill="none"/>
<path d="M365.6,447.7V455M363.85,447.7H367.35M363.85,455H367.35" stroke="#000" stroke-width="0.9" fill="none"/>
<path d="M310.4,487.5V495.3M308.65,487.5H312.15M308.65,495.3H312.15" stroke="#000" stroke-width="0.9" fill="none"/>
<circle cx="335.8" cy="471" r="2.1" fill="none" stroke="#000" stroke-width="1.0"/>
<circle cx="343.3" cy="471.6" r="2.1" fill="none" stroke="#000" stroke-width="1.0"/>
<circle cx="350.6" cy="474" r="2.1" fill="none" stroke="#000" stroke-width="1.0"/>
<circle cx="358" cy="480.5" r="2.1" fill="none" stroke="#000" stroke-width="1.0"/>
<circle cx="365.6" cy="483.1" r="2.1" fill="none" stroke="#000" stroke-width="1.0"/>
<circle cx="335.8" cy="471" r="2.45" fill="#000"/>
<circle cx="343.3" cy="471.6" r="2.45" fill="#000"/>
<circle cx="350.6" cy="474" r="2.45" fill="#000"/>
<circle cx="358" cy="478.8" r="2.45" fill="#000"/>
<circle cx="365.6" cy="483.1" r="2.45" fill="#000"/>
<rect x="333.55" y="452.35" width="4.5" height="4.5" fill="#000"/>
<rect x="341.05" y="447.15" width="4.5" height="4.5" fill="#000"/>
<rect x="348.35" y="453.75" width="4.5" height="4.5" fill="#000"/>
<rect x="355.75" y="460.15" width="4.5" height="4.5" fill="#000"/>
<rect x="363.35" y="449.25" width="4.5" height="4.5" fill="#000"/>
<rect x="308.15" y="472.25" width="4.5" height="4.5" fill="#000"/>
<circle cx="310.4" cy="495.3" r="2.45" fill="#000"/>
<text transform="translate(466.8,432.7) scale(0.99,1.0)" font-size="16.0" stroke="#000" stroke-width="0.45" text-anchor="start" fill="#000">OVA</text>
<line x1="466.9" y1="453.5" x2="486.3" y2="453.5" stroke="#000" stroke-width="1.4"/>
<line x1="466.9" y1="470" x2="486.3" y2="470" stroke="#000" stroke-width="1.4"/>
<line x1="466.9" y1="486.6" x2="486.3" y2="486.6" stroke="#000" stroke-width="1.4"/>
<circle cx="476.5" cy="453.5" r="4.9" fill="none" stroke="#000" stroke-width="1.4"/>
<circle cx="476.5" cy="470" r="5.2" fill="#000"/>
<rect x="471.4" y="481.5" width="10.2" height="10.2" fill="#000"/>
<text transform="translate(489.3,456.2) scale(0.99,1.0)" font-size="11.2" stroke="#000" stroke-width="0.45" text-anchor="start" fill="#000">CM</text>
<text transform="translate(489.3,472.7) scale(0.98,1.0)" font-size="11.2" stroke="#000" stroke-width="0.45" text-anchor="start" fill="#000">R848</text>
<text transform="translate(489.3,489.7) scale(0.99,1.0)" font-size="11.2" stroke="#000" stroke-width="0.45" text-anchor="start" fill="#000">CpG</text>
<line x1="86" y1="583.9" x2="86" y2="708" stroke="#000" stroke-width="1.5"/>
<line x1="82.5" y1="704.6" x2="86" y2="704.6" stroke="#000" stroke-width="1.5"/>
<line x1="82.5" y1="664.6" x2="86" y2="664.6" stroke="#000" stroke-width="1.5"/>
<line x1="82.5" y1="624.6" x2="86" y2="624.6" stroke="#000" stroke-width="1.5"/>
<line x1="82.5" y1="584.6" x2="86" y2="584.6" stroke="#000" stroke-width="1.5"/>
<text transform="translate(80.9,710.1) scale(0.8,1.0)" font-size="12.0" font-weight="bold" text-anchor="end" fill="#000">0</text>
<text transform="translate(80.9,670.1) scale(0.8,1.0)" font-size="12.0" font-weight="bold" text-anchor="end" fill="#000">100</text>
<text transform="translate(80.9,630.1) scale(0.8,1.0)" font-size="12.0" font-weight="bold" text-anchor="end" fill="#000">200</text>
<text transform="translate(80.9,590.1) scale(0.8,1.0)" font-size="12.0" font-weight="bold" text-anchor="end" fill="#000">300</text>
<line x1="82.8" y1="704.6" x2="110.3" y2="704.6" stroke="#000" stroke-width="1.5"/>
<line x1="117.2" y1="704.6" x2="244.9" y2="704.6" stroke="#000" stroke-width="1.5"/>
<line x1="110.3" y1="701.9" x2="110.3" y2="707.5" stroke="#000" stroke-width="1.5"/>
<line x1="117.2" y1="701.9" x2="117.2" y2="707.5" stroke="#000" stroke-width="1.5"/>
<line x1="155.64" y1="704.6" x2="155.64" y2="707.1" stroke="#000" stroke-width="1.2"/>
<line x1="178.13" y1="704.6" x2="178.13" y2="707.1" stroke="#000" stroke-width="1.2"/>
<line x1="194.08" y1="704.6" x2="194.08" y2="707.1" stroke="#000" stroke-width="1.2"/>
<line x1="206.46" y1="704.6" x2="206.46" y2="707.1" stroke="#000" stroke-width="1.2"/>
<line x1="216.57" y1="704.6" x2="216.57" y2="707.1" stroke="#000" stroke-width="1.2"/>
<line x1="225.12" y1="704.6" x2="225.12" y2="707.1" stroke="#000" stroke-width="1.2"/>
<line x1="232.52" y1="704.6" x2="232.52" y2="707.1" stroke="#000" stroke-width="1.2"/>
<line x1="239.06" y1="704.6" x2="239.06" y2="707.1" stroke="#000" stroke-width="1.2"/>
<line x1="244.9" y1="704.6" x2="244.9" y2="707.8" stroke="#000" stroke-width="1.5"/>
<text transform="translate(109.69,720.5) scale(0.84,1.0)" font-size="11.8" font-weight="bold" text-anchor="start" fill="#000">10</text>
<text transform="translate(121.21,716.5) scale(0.84,1.0)" font-size="7.5" font-weight="bold" text-anchor="start" fill="#000">3</text>
<text transform="translate(237.39,720.5) scale(0.84,1.0)" font-size="11.8" font-weight="bold" text-anchor="start" fill="#000">10</text>
<text transform="translate(248.91,716.5) scale(0.84,1.0)" font-size="7.5" font-weight="bold" text-anchor="start" fill="#000">4</text>
<text transform="translate(53.2,642.7) rotate(-90)" font-size="11.8" font-weight="bold" text-anchor="middle" textLength="76.5" lengthAdjust="spacingAndGlyphs">x 10<tspan font-size="8.5" dy="-4.96">3</tspan><tspan dy="4.96"> cpm (IL-2)</tspan></text>
<polyline points="86,693.3 110.3,651.21" fill="none" stroke="#000" stroke-width="1.5" stroke-linejoin="round"/>
<polyline points="117.2,639.26 143.1,594.4" fill="none" stroke="#000" stroke-width="1.5" stroke-linejoin="round"/>
<polyline points="143.1,594.4 181.8,602.5 247,630.2" fill="none" stroke="#000" stroke-width="1.5" stroke-linejoin="round"/>
<polyline points="86,693.3 110.3,660.19" fill="none" stroke="#000" stroke-width="1.5" stroke-linejoin="round"/>
<polyline points="117.2,650.79 143.1,615.5" fill="none" stroke="#000" stroke-width="1.5" stroke-linejoin="round"/>
<polyline points="143.1,615.5 181.8,624.6 220.5,632.3 247,638" fill="none" stroke="#000" stroke-width="1.5" stroke-linejoin="round"/>
<polyline points="86,693.3 110.3,664.36" fill="none" stroke="#000" stroke-width="1.5" stroke-linejoin="round"/>
<polyline points="117.2,656.14 143.1,625.3" fill="none" stroke="#000" stroke-width="1.5" stroke-linejoin="round"/>
<polyline points="143.1,625.3 181.8,635 220.5,632.8 247,641.4" fill="none" stroke="#000" stroke-width="1.5" stroke-linejoin="round"/>
<path d="M143.1,605.6V618M139.1,605.6H147.1M139.1,618H147.1" stroke="#000" stroke-width="1.35" fill="none"/>
<path d="M143.1,608.5V645.4M139.1,608.5H147.1M139.1,645.4H147.1" stroke="#000" stroke-width="1.35" fill="none"/>
<path d="M181.8,594.7V612M177.8,594.7H185.8M177.8,612H185.8" stroke="#000" stroke-width="1.35" fill="none"/>
<path d="M220.5,625.8V639.7M216.5,625.8H224.5M216.5,639.7H224.5" stroke="#000" stroke-width="1.35" fill="none"/>
<path d="M247,634V650M243,634H251M243,650H251" stroke="#000" stroke-width="1.35" fill="none"/>
<circle cx="143.1" cy="594.4" r="3.6" fill="none" stroke="#000" stroke-width="1.3"/>
<circle cx="181.8" cy="602.5" r="3.6" fill="none" stroke="#000" stroke-width="1.3"/>
<circle cx="247" cy="630.2" r="3.6" fill="none" stroke="#000" stroke-width="1.3"/>
<circle cx="143.1" cy="625.3" r="4.1" fill="#000"/>
<circle cx="181.8" cy="635" r="4.1" fill="#000"/>
<circle cx="220.5" cy="632.8" r="4.1" fill="#000"/>
<circle cx="247" cy="641.4" r="4.1" fill="#000"/>
<rect x="139.4" y="611.8" width="7.4" height="7.4" fill="#000"/>
<rect x="178.1" y="620.9" width="7.4" height="7.4" fill="#000"/>
<rect x="216.8" y="628.6" width="7.4" height="7.4" fill="#000"/>
<rect x="243.3" y="634.3" width="7.4" height="7.4" fill="#000"/>
<rect x="82.2" y="689.5" width="7.6" height="7.6" fill="#000"/>
<line x1="292.1" y1="582.95" x2="292.1" y2="707.2" stroke="#000" stroke-width="1.5"/>
<line x1="288.6" y1="703.8" x2="292.1" y2="703.8" stroke="#000" stroke-width="1.5"/>
<line x1="288.6" y1="663.75" x2="292.1" y2="663.75" stroke="#000" stroke-width="1.5"/>
<line x1="288.6" y1="623.7" x2="292.1" y2="623.7" stroke="#000" stroke-width="1.5"/>
<line x1="288.6" y1="583.65" x2="292.1" y2="583.65" stroke="#000" stroke-width="1.5"/>
<text transform="translate(286.8,709.2) scale(0.8,1.0)" font-size="12.5" font-weight="bold" text-anchor="end" fill="#000">0</text>
<text transform="translate(286.8,669.15) scale(0.8,1.0)" font-size="12.5" font-weight="bold" text-anchor="end" fill="#000">100</text>
<text transform="translate(286.8,629.1) scale(0.8,1.0)" font-size="12.5" font-weight="bold" text-anchor="end" fill="#000">200</text>
<text transform="translate(286.8,589.05) scale(0.8,1.0)" font-size="12.5" font-weight="bold" text-anchor="end" fill="#000">300</text>
<line x1="288.9" y1="703.8" x2="316.6" y2="703.8" stroke="#000" stroke-width="1.5"/>
<line x1="323.8" y1="703.8" x2="452" y2="703.8" stroke="#000" stroke-width="1.5"/>
<line x1="316.6" y1="701.1" x2="316.6" y2="706.7" stroke="#000" stroke-width="1.5"/>
<line x1="323.8" y1="701.1" x2="323.8" y2="706.7" stroke="#000" stroke-width="1.5"/>
<line x1="362.39" y1="703.8" x2="362.39" y2="706.3" stroke="#000" stroke-width="1.2"/>
<line x1="384.97" y1="703.8" x2="384.97" y2="706.3" stroke="#000" stroke-width="1.2"/>
<line x1="400.98" y1="703.8" x2="400.98" y2="706.3" stroke="#000" stroke-width="1.2"/>
<line x1="413.41" y1="703.8" x2="413.41" y2="706.3" stroke="#000" stroke-width="1.2"/>
<line x1="423.56" y1="703.8" x2="423.56" y2="706.3" stroke="#000" stroke-width="1.2"/>
<line x1="432.14" y1="703.8" x2="432.14" y2="706.3" stroke="#000" stroke-width="1.2"/>
<line x1="439.58" y1="703.8" x2="439.58" y2="706.3" stroke="#000" stroke-width="1.2"/>
<line x1="446.13" y1="703.8" x2="446.13" y2="706.3" stroke="#000" stroke-width="1.2"/>
<line x1="452" y1="703.8" x2="452" y2="707" stroke="#000" stroke-width="1.5"/>
<text transform="translate(316.29,720) scale(0.84,1.0)" font-size="11.8" font-weight="bold" text-anchor="start" fill="#000">10</text>
<text transform="translate(327.81,716) scale(0.84,1.0)" font-size="7.5" font-weight="bold" text-anchor="start" fill="#000">3</text>
<text transform="translate(444.49,720) scale(0.84,1.0)" font-size="11.8" font-weight="bold" text-anchor="start" fill="#000">10</text>
<text transform="translate(456.01,716) scale(0.84,1.0)" font-size="7.5" font-weight="bold" text-anchor="start" fill="#000">4</text>
<polyline points="292.1,701 316.6,694.01" fill="none" stroke="#000" stroke-width="1.5" stroke-linejoin="round"/>
<polyline points="323.8,691.96 348.9,684.8" fill="none" stroke="#000" stroke-width="1.5" stroke-linejoin="round"/>
<polyline points="348.9,684.8 388,687 426.25,683 453,690.5" fill="none" stroke="#000" stroke-width="1.5" stroke-linejoin="round"/>
<polyline points="292.1,701 316.6,659.42" fill="none" stroke="#000" stroke-width="1.5" stroke-linejoin="round"/>
<polyline points="323.8,647.2 348.9,604.6" fill="none" stroke="#000" stroke-width="1.5" stroke-linejoin="round"/>
<polyline points="348.9,604.6 388,625 426.25,637.5 453,628.75" fill="none" stroke="#000" stroke-width="1.5" stroke-linejoin="round"/>
<polyline points="292.1,701 316.6,672.83" fill="none" stroke="#000" stroke-width="1.5" stroke-linejoin="round"/>
<polyline points="323.8,664.56 348.9,635.7" fill="none" stroke="#000" stroke-width="1.5" stroke-linejoin="round"/>
<polyline points="348.9,635.7 388,628.75 426.25,627 453,632" fill="none" stroke="#000" stroke-width="1.5" stroke-linejoin="round"/>
<path d="M348.9,679.7V690M344.9,679.7H352.9M344.9,690H352.9" stroke="#000" stroke-width="1.35" fill="none"/>
<path d="M388,607.5V637.5M384,607.5H392M384,637.5H392" stroke="#000" stroke-width="1.35" fill="none"/>
<path d="M426.25,622.5V631M422.25,622.5H430.25M422.25,631H430.25" stroke="#000" stroke-width="1.35" fill="none"/>
<path d="M426.25,637.5V648.75M422.25,637.5H430.25M422.25,648.75H430.25" stroke="#000" stroke-width="1.35" fill="none"/>
<path d="M453,621.25V645M449,621.25H457M449,645H457" stroke="#000" stroke-width="1.35" fill="none"/>
<circle cx="348.9" cy="684.8" r="3.6" fill="none" stroke="#000" stroke-width="1.3"/>
<circle cx="388" cy="687" r="3.6" fill="none" stroke="#000" stroke-width="1.3"/>
<circle cx="426.25" cy="683" r="3.6" fill="none" stroke="#000" stroke-width="1.3"/>
<circle cx="453" cy="690.5" r="3.6" fill="none" stroke="#000" stroke-width="1.3"/>
<circle cx="348.9" cy="635.7" r="4.1" fill="#000"/>
<circle cx="388" cy="628.75" r="4.1" fill="#000"/>
<circle cx="426.25" cy="627" r="4.1" fill="#000"/>
<circle cx="453" cy="632" r="4.1" fill="#000"/>
<rect x="345.2" y="600.9" width="7.4" height="7.4" fill="#000"/>
<rect x="384.3" y="621.3" width="7.4" height="7.4" fill="#000"/>
<rect x="422.55" y="633.8" width="7.4" height="7.4" fill="#000"/>
<rect x="449.3" y="625.05" width="7.4" height="7.4" fill="#000"/>
<rect x="288.3" y="697.2" width="7.6" height="7.6" fill="#000"/>
<text transform="translate(467.8,590.6) scale(1.035,1.0)" font-size="16.3" stroke="#000" stroke-width="0.45" text-anchor="start" fill="#000">Beads</text>
<line x1="468" y1="611.5" x2="488" y2="611.5" stroke="#000" stroke-width="1.4"/>
<line x1="468" y1="628.4" x2="488" y2="628.4" stroke="#000" stroke-width="1.4"/>
<line x1="468" y1="645" x2="488" y2="645" stroke="#000" stroke-width="1.4"/>
<circle cx="478.1" cy="611.5" r="4.9" fill="none" stroke="#000" stroke-width="1.4"/>
<circle cx="478.1" cy="628.4" r="5.2" fill="#000"/>
<rect x="473" y="639.9" width="10.2" height="10.2" fill="#000"/>
<text transform="translate(491.3,614.2) scale(0.99,1.0)" font-size="11.2" stroke="#000" stroke-width="0.45" text-anchor="start" fill="#000">CM</text>
<text transform="translate(491.3,631) scale(0.98,1.0)" font-size="11.2" stroke="#000" stroke-width="0.45" text-anchor="start" fill="#000">R848</text>
<text transform="translate(491.3,647.6) scale(0.99,1.0)" font-size="11.2" stroke="#000" stroke-width="0.45" text-anchor="start" fill="#000">CpG</text>
<line x1="81.2" y1="737.4" x2="461.2" y2="737.4" stroke="#b0b0b0" stroke-width="1.7"/>
<text transform="translate(250.85,760.6) scale(0.94,1.0)" font-size="17" stroke="#000" stroke-width="0.45" text-anchor="middle" fill="#000">APC / well</text>
<line x1="88.1" y1="836.7" x2="88.1" y2="970.5" stroke="#000" stroke-width="1.5"/>
<line x1="84.6" y1="967.1" x2="88.1" y2="967.1" stroke="#000" stroke-width="1.5"/>
<line x1="84.6" y1="934.67" x2="88.1" y2="934.67" stroke="#000" stroke-width="1.5"/>
<line x1="84.6" y1="902.25" x2="88.1" y2="902.25" stroke="#000" stroke-width="1.5"/>
<line x1="84.6" y1="869.83" x2="88.1" y2="869.83" stroke="#000" stroke-width="1.5"/>
<line x1="84.6" y1="837.4" x2="88.1" y2="837.4" stroke="#000" stroke-width="1.5"/>
<text transform="translate(79.2,972.4) scale(0.79,1.0)" font-size="13.4" font-weight="bold" text-anchor="end" fill="#000">0</text>
<text transform="translate(79.2,939.97) scale(0.79,1.0)" font-size="13.4" font-weight="bold" text-anchor="end" fill="#000">25</text>
<text transform="translate(79.2,907.55) scale(0.79,1.0)" font-size="13.4" font-weight="bold" text-anchor="end" fill="#000">50</text>
<text transform="translate(79.2,875.12) scale(0.79,1.0)" font-size="13.4" font-weight="bold" text-anchor="end" fill="#000">75</text>
<text transform="translate(78,842.7) scale(0.76,1.0)" font-size="13.4" font-weight="bold" text-anchor="end" fill="#000">100</text>
<line x1="84.9" y1="967.1" x2="104.8" y2="967.1" stroke="#000" stroke-width="1.5"/>
<line x1="112.3" y1="967.1" x2="196.5" y2="967.1" stroke="#000" stroke-width="1.5"/>
<line x1="91.1" y1="967.1" x2="104.5" y2="967.1" stroke="#000" stroke-width="2.8"/>
<line x1="104.8" y1="964.4" x2="104.8" y2="970" stroke="#000" stroke-width="1.5"/>
<line x1="112.3" y1="964.4" x2="112.3" y2="970" stroke="#000" stroke-width="1.5"/>
<line x1="116.51" y1="967.1" x2="116.51" y2="969.7" stroke="#000" stroke-width="1.2"/>
<line x1="120.72" y1="967.1" x2="120.72" y2="969.7" stroke="#000" stroke-width="1.2"/>
<line x1="124.93" y1="967.1" x2="124.93" y2="969.7" stroke="#000" stroke-width="1.2"/>
<line x1="129.14" y1="967.1" x2="129.14" y2="969.7" stroke="#000" stroke-width="1.2"/>
<line x1="133.35" y1="967.1" x2="133.35" y2="969.7" stroke="#000" stroke-width="1.2"/>
<line x1="137.56" y1="967.1" x2="137.56" y2="969.7" stroke="#000" stroke-width="1.2"/>
<line x1="141.77" y1="967.1" x2="141.77" y2="969.7" stroke="#000" stroke-width="1.2"/>
<line x1="145.98" y1="967.1" x2="145.98" y2="969.7" stroke="#000" stroke-width="1.2"/>
<line x1="150.19" y1="967.1" x2="150.19" y2="969.7" stroke="#000" stroke-width="1.2"/>
<line x1="154.4" y1="967.1" x2="154.4" y2="970.3" stroke="#000" stroke-width="1.5"/>
<line x1="158.61" y1="967.1" x2="158.61" y2="969.7" stroke="#000" stroke-width="1.2"/>
<line x1="162.82" y1="967.1" x2="162.82" y2="969.7" stroke="#000" stroke-width="1.2"/>
<line x1="167.03" y1="967.1" x2="167.03" y2="969.7" stroke="#000" stroke-width="1.2"/>
<line x1="171.24" y1="967.1" x2="171.24" y2="969.7" stroke="#000" stroke-width="1.2"/>
<line x1="175.45" y1="967.1" x2="175.45" y2="969.7" stroke="#000" stroke-width="1.2"/>
<line x1="179.66" y1="967.1" x2="179.66" y2="969.7" stroke="#000" stroke-width="1.2"/>
<line x1="183.87" y1="967.1" x2="183.87" y2="969.7" stroke="#000" stroke-width="1.2"/>
<line x1="188.08" y1="967.1" x2="188.08" y2="969.7" stroke="#000" stroke-width="1.2"/>
<line x1="192.29" y1="967.1" x2="192.29" y2="969.7" stroke="#000" stroke-width="1.2"/>
<line x1="196.5" y1="967.1" x2="196.5" y2="970.3" stroke="#000" stroke-width="1.5"/>
<text transform="translate(103.74,984.3) scale(0.84,1.0)" font-size="11.8" font-weight="bold" text-anchor="start" fill="#000">10</text>
<text transform="translate(115.26,980.3) scale(0.84,1.0)" font-size="7.5" font-weight="bold" text-anchor="start" fill="#000">-9</text>
<text transform="translate(145.84,984.3) scale(0.84,1.0)" font-size="11.8" font-weight="bold" text-anchor="start" fill="#000">10</text>
<text transform="translate(157.36,980.3) scale(0.84,1.0)" font-size="7.5" font-weight="bold" text-anchor="start" fill="#000">-8</text>
<text transform="translate(187.94,984.3) scale(0.84,1.0)" font-size="11.8" font-weight="bold" text-anchor="start" fill="#000">10</text>
<text transform="translate(199.46,980.3) scale(0.84,1.0)" font-size="7.5" font-weight="bold" text-anchor="start" fill="#000">-7</text>
<text transform="translate(141.8,823) scale(0.955,1.0)" font-size="16.8" stroke="#000" stroke-width="0.45" text-anchor="middle" fill="#000">peptide</text>
<text transform="translate(51.1,898.3) rotate(-90)" font-size="13.5" font-weight="bold" text-anchor="middle" textLength="85.1" lengthAdjust="spacingAndGlyphs">x 10<tspan font-size="9.72" dy="-5.67">3</tspan><tspan dy="5.67"> cpm (IL-2)</tspan></text>
<polyline points="88.1,967.3 104.8,962.57" fill="none" stroke="#000" stroke-width="1.7" stroke-linejoin="round"/>
<polyline points="112.3,960.45 120.6,958.1" fill="none" stroke="#000" stroke-width="1.7" stroke-linejoin="round"/>
<polyline points="120.6,958.1 133.6,954.2 145.8,930.9 171.2,896.2 183.9,862.7" fill="none" stroke="#000" stroke-width="1.7" stroke-linejoin="round"/>
<polyline points="88.1,967.3 104.8,967.09" fill="none" stroke="#000" stroke-width="1.5" stroke-linejoin="round" stroke-dasharray="3,2"/>
<polyline points="112.3,967 120.6,966.9" fill="none" stroke="#000" stroke-width="1.5" stroke-linejoin="round" stroke-dasharray="3,2"/>
<polyline points="120.6,966.9 133.6,964.3 145.8,961.3 158.5,948.2 171.2,917 184.4,880.5" fill="none" stroke="#000" stroke-width="1.5" stroke-linejoin="round" stroke-dasharray="3,2"/>
<path d="M133.6,941.2V967M129.6,941.2H137.6M129.6,967H137.6" stroke="#000" stroke-width="1.35" fill="none"/>
<path d="M145.8,922.8V938.9M141.8,922.8H149.8M141.8,938.9H149.8" stroke="#000" stroke-width="1.35" fill="none"/>
<path d="M171.2,878.9V912.4M167.2,878.9H175.2M167.2,912.4H175.2" stroke="#000" stroke-width="1.35" fill="none"/>
<path d="M183.9,837.3V875.4M179.9,837.3H187.9M179.9,875.4H187.9" stroke="#000" stroke-width="1.35" fill="none"/>
<path d="M145.8,956.3V966M141.8,956.3H149.8M141.8,966H149.8" stroke="#000" stroke-width="1.35" fill="none"/>
<path d="M158.5,938.2V958.6M154.5,938.2H162.5M154.5,958.6H162.5" stroke="#000" stroke-width="1.35" fill="none"/>
<path d="M184.4,873.6V887M180.4,873.6H188.4M180.4,887H188.4" stroke="#000" stroke-width="1.35" fill="none"/>
<circle cx="120.6" cy="966.9" r="3.6" fill="none" stroke="#000" stroke-width="1.3"/>
<circle cx="133.6" cy="964.3" r="3.6" fill="none" stroke="#000" stroke-width="1.3"/>
<circle cx="145.8" cy="961.3" r="3.6" fill="none" stroke="#000" stroke-width="1.3"/>
<circle cx="158.5" cy="948.2" r="3.6" fill="none" stroke="#000" stroke-width="1.3"/>
<circle cx="171.2" cy="917" r="3.6" fill="none" stroke="#000" stroke-width="1.3"/>
<circle cx="184.4" cy="880.5" r="3.6" fill="none" stroke="#000" stroke-width="1.3"/>
<circle cx="120.6" cy="958.1" r="4.4" fill="#000"/>
<circle cx="133.6" cy="954.2" r="4.4" fill="#000"/>
<circle cx="145.8" cy="930.9" r="4.4" fill="#000"/>
<circle cx="171.2" cy="896.2" r="4.4" fill="#000"/>
<circle cx="183.9" cy="862.7" r="4.4" fill="#000"/>
<circle cx="88.1" cy="967.3" r="4.4" fill="#000"/>
<line x1="95.7" y1="843" x2="111.5" y2="843" stroke="#000" stroke-width="1.5"/>
<circle cx="103.7" cy="843" r="3.9" fill="#000"/>
<line x1="95.7" y1="856.9" x2="111.5" y2="856.9" stroke="#000" stroke-width="1.5"/>
<circle cx="103.7" cy="856.9" r="3.5" fill="none" stroke="#000" stroke-width="1.3"/>
<text transform="translate(114,846.3) scale(0.85,1.0)" font-size="9" font-weight="bold" text-anchor="start" fill="#000">WT pDC</text>
<text transform="translate(114,860.2) scale(0.85,1.0)" font-size="9" font-weight="bold" text-anchor="start" fill="#000">TAP</text>
<text transform="translate(129.6,857.4) scale(0.85,1.0)" font-size="5.5" font-weight="bold" text-anchor="start" fill="#000">-/-</text>
<text transform="translate(138.3,860.2) scale(0.85,1.0)" font-size="9" font-weight="bold" text-anchor="start" fill="#000">pDC</text>
<line x1="241.5" y1="837.9" x2="241.5" y2="969.7" stroke="#000" stroke-width="1.5"/>
<line x1="238" y1="966.3" x2="241.5" y2="966.3" stroke="#000" stroke-width="1.5"/>
<line x1="238" y1="934.38" x2="241.5" y2="934.38" stroke="#000" stroke-width="1.5"/>
<line x1="238" y1="902.45" x2="241.5" y2="902.45" stroke="#000" stroke-width="1.5"/>
<line x1="238" y1="870.52" x2="241.5" y2="870.52" stroke="#000" stroke-width="1.5"/>
<line x1="238" y1="838.6" x2="241.5" y2="838.6" stroke="#000" stroke-width="1.5"/>
<text transform="translate(232.2,971.6) scale(0.79,1.0)" font-size="13.4" font-weight="bold" text-anchor="end" fill="#000">0</text>
<text transform="translate(232.2,939.67) scale(0.79,1.0)" font-size="13.4" font-weight="bold" text-anchor="end" fill="#000">25</text>
<text transform="translate(232.2,907.75) scale(0.79,1.0)" font-size="13.4" font-weight="bold" text-anchor="end" fill="#000">50</text>
<text transform="translate(232.2,875.82) scale(0.79,1.0)" font-size="13.4" font-weight="bold" text-anchor="end" fill="#000">75</text>
<text transform="translate(231,843.9) scale(0.76,1.0)" font-size="13.4" font-weight="bold" text-anchor="end" fill="#000">100</text>
<line x1="238.3" y1="966.3" x2="258.3" y2="966.3" stroke="#000" stroke-width="1.5"/>
<line x1="265.8" y1="966.3" x2="349.5" y2="966.3" stroke="#000" stroke-width="1.5"/>
<line x1="244.5" y1="966.3" x2="258" y2="966.3" stroke="#000" stroke-width="2.8"/>
<line x1="258.3" y1="963.6" x2="258.3" y2="969.2" stroke="#000" stroke-width="1.5"/>
<line x1="265.8" y1="963.6" x2="265.8" y2="969.2" stroke="#000" stroke-width="1.5"/>
<line x1="269.99" y1="966.3" x2="269.99" y2="968.9" stroke="#000" stroke-width="1.2"/>
<line x1="274.17" y1="966.3" x2="274.17" y2="968.9" stroke="#000" stroke-width="1.2"/>
<line x1="278.36" y1="966.3" x2="278.36" y2="968.9" stroke="#000" stroke-width="1.2"/>
<line x1="282.54" y1="966.3" x2="282.54" y2="968.9" stroke="#000" stroke-width="1.2"/>
<line x1="286.73" y1="966.3" x2="286.73" y2="968.9" stroke="#000" stroke-width="1.2"/>
<line x1="290.91" y1="966.3" x2="290.91" y2="968.9" stroke="#000" stroke-width="1.2"/>
<line x1="295.1" y1="966.3" x2="295.1" y2="968.9" stroke="#000" stroke-width="1.2"/>
<line x1="299.28" y1="966.3" x2="299.28" y2="968.9" stroke="#000" stroke-width="1.2"/>
<line x1="303.47" y1="966.3" x2="303.47" y2="968.9" stroke="#000" stroke-width="1.2"/>
<line x1="307.65" y1="966.3" x2="307.65" y2="969.5" stroke="#000" stroke-width="1.5"/>
<line x1="311.84" y1="966.3" x2="311.84" y2="968.9" stroke="#000" stroke-width="1.2"/>
<line x1="316.02" y1="966.3" x2="316.02" y2="968.9" stroke="#000" stroke-width="1.2"/>
<line x1="320.21" y1="966.3" x2="320.21" y2="968.9" stroke="#000" stroke-width="1.2"/>
<line x1="324.39" y1="966.3" x2="324.39" y2="968.9" stroke="#000" stroke-width="1.2"/>
<line x1="328.57" y1="966.3" x2="328.57" y2="968.9" stroke="#000" stroke-width="1.2"/>
<line x1="332.76" y1="966.3" x2="332.76" y2="968.9" stroke="#000" stroke-width="1.2"/>
<line x1="336.95" y1="966.3" x2="336.95" y2="968.9" stroke="#000" stroke-width="1.2"/>
<line x1="341.13" y1="966.3" x2="341.13" y2="968.9" stroke="#000" stroke-width="1.2"/>
<line x1="345.31" y1="966.3" x2="345.31" y2="968.9" stroke="#000" stroke-width="1.2"/>
<line x1="349.5" y1="966.3" x2="349.5" y2="969.5" stroke="#000" stroke-width="1.5"/>
<text transform="translate(257.24,984.3) scale(0.84,1.0)" font-size="11.8" font-weight="bold" text-anchor="start" fill="#000">10</text>
<text transform="translate(268.76,980.3) scale(0.84,1.0)" font-size="7.5" font-weight="bold" text-anchor="start" fill="#000">-9</text>
<text transform="translate(299.09,984.3) scale(0.84,1.0)" font-size="11.8" font-weight="bold" text-anchor="start" fill="#000">10</text>
<text transform="translate(310.61,980.3) scale(0.84,1.0)" font-size="7.5" font-weight="bold" text-anchor="start" fill="#000">-8</text>
<text transform="translate(340.94,984.3) scale(0.84,1.0)" font-size="11.8" font-weight="bold" text-anchor="start" fill="#000">10</text>
<text transform="translate(352.46,980.3) scale(0.84,1.0)" font-size="7.5" font-weight="bold" text-anchor="start" fill="#000">-7</text>
<text transform="translate(294.9,826) scale(0.95,1.0)" font-size="17.5" stroke="#000" stroke-width="0.45" text-anchor="middle" fill="#000">OVA</text>
<polyline points="241.5,966.3 258.3,966.3" fill="none" stroke="#000" stroke-width="1.7" stroke-linejoin="round"/>
<polyline points="265.8,966.3 273.8,963.8" fill="none" stroke="#000" stroke-width="1.7" stroke-linejoin="round"/>
<polyline points="273.8,963.8 286.8,966.3 300,961.3 311.3,966.3 323.8,959.5 337,966.3" fill="none" stroke="#000" stroke-width="1.7" stroke-linejoin="round"/>
<polyline points="241.5,956.5 259.4,961.9" fill="none" stroke="#000" stroke-width="1.5" stroke-linejoin="round" stroke-dasharray="3,2"/>
<polyline points="265.8,962.5 273.8,966.8" fill="none" stroke="#000" stroke-width="1.5" stroke-linejoin="round" stroke-dasharray="3,2"/>
<polyline points="273.8,966.8 286.8,966.3 300,952 311.3,952 323.8,944.5 337,945.8" fill="none" stroke="#000" stroke-width="1.5" stroke-linejoin="round" stroke-dasharray="3,2"/>
<path d="M300,942V960M296,942H304M296,960H304" stroke="#000" stroke-width="1.35" fill="none"/>
<path d="M311.3,945V958.8M307.3,945H315.3M307.3,958.8H315.3" stroke="#000" stroke-width="1.35" fill="none"/>
<path d="M337,930V966M333,930H341M333,966H341" stroke="#000" stroke-width="1.35" fill="none"/>
<circle cx="273.8" cy="966.8" r="3.6" fill="none" stroke="#000" stroke-width="1.3"/>
<circle cx="286.8" cy="966.3" r="3.6" fill="none" stroke="#000" stroke-width="1.3"/>
<circle cx="300" cy="952" r="3.6" fill="none" stroke="#000" stroke-width="1.3"/>
<circle cx="311.3" cy="952" r="3.6" fill="none" stroke="#000" stroke-width="1.3"/>
<circle cx="323.8" cy="944.5" r="3.6" fill="none" stroke="#000" stroke-width="1.3"/>
<circle cx="337" cy="945.8" r="3.6" fill="none" stroke="#000" stroke-width="1.3"/>
<circle cx="273.8" cy="963.8" r="4.4" fill="#000"/>
<circle cx="286.8" cy="966.3" r="4.4" fill="#000"/>
<circle cx="300" cy="961.3" r="4.4" fill="#000"/>
<circle cx="311.3" cy="966.3" r="4.4" fill="#000"/>
<circle cx="323.8" cy="959.5" r="4.4" fill="#000"/>
<circle cx="337" cy="966.3" r="4.4" fill="#000"/>
<circle cx="241.5" cy="956.5" r="3.6" fill="none" stroke="#000" stroke-width="1.3"/>
<circle cx="241.5" cy="966.3" r="4.4" fill="#000"/>
<line x1="393.2" y1="837.3" x2="393.2" y2="969.7" stroke="#000" stroke-width="1.5"/>
<line x1="389.7" y1="966.3" x2="393.2" y2="966.3" stroke="#000" stroke-width="1.5"/>
<line x1="389.7" y1="934.22" x2="393.2" y2="934.22" stroke="#000" stroke-width="1.5"/>
<line x1="389.7" y1="902.15" x2="393.2" y2="902.15" stroke="#000" stroke-width="1.5"/>
<line x1="389.7" y1="870.08" x2="393.2" y2="870.08" stroke="#000" stroke-width="1.5"/>
<line x1="389.7" y1="838" x2="393.2" y2="838" stroke="#000" stroke-width="1.5"/>
<text transform="translate(384.2,971.6) scale(0.79,1.0)" font-size="13.4" font-weight="bold" text-anchor="end" fill="#000">0</text>
<text transform="translate(384.2,939.52) scale(0.79,1.0)" font-size="13.4" font-weight="bold" text-anchor="end" fill="#000">25</text>
<text transform="translate(384.2,907.45) scale(0.79,1.0)" font-size="13.4" font-weight="bold" text-anchor="end" fill="#000">50</text>
<text transform="translate(384.2,875.38) scale(0.79,1.0)" font-size="13.4" font-weight="bold" text-anchor="end" fill="#000">75</text>
<text transform="translate(383,843.3) scale(0.76,1.0)" font-size="13.4" font-weight="bold" text-anchor="end" fill="#000">100</text>
<line x1="390" y1="966.3" x2="410" y2="966.3" stroke="#000" stroke-width="1.5"/>
<line x1="417.5" y1="966.3" x2="500.2" y2="966.3" stroke="#000" stroke-width="1.5"/>
<line x1="396.2" y1="966.3" x2="409.7" y2="966.3" stroke="#000" stroke-width="2.8"/>
<line x1="410" y1="963.6" x2="410" y2="969.2" stroke="#000" stroke-width="1.5"/>
<line x1="417.5" y1="963.6" x2="417.5" y2="969.2" stroke="#000" stroke-width="1.5"/>
<line x1="421.58" y1="966.3" x2="421.58" y2="968.9" stroke="#000" stroke-width="1.2"/>
<line x1="425.66" y1="966.3" x2="425.66" y2="968.9" stroke="#000" stroke-width="1.2"/>
<line x1="429.74" y1="966.3" x2="429.74" y2="968.9" stroke="#000" stroke-width="1.2"/>
<line x1="433.82" y1="966.3" x2="433.82" y2="968.9" stroke="#000" stroke-width="1.2"/>
<line x1="437.9" y1="966.3" x2="437.9" y2="968.9" stroke="#000" stroke-width="1.2"/>
<line x1="441.98" y1="966.3" x2="441.98" y2="968.9" stroke="#000" stroke-width="1.2"/>
<line x1="446.06" y1="966.3" x2="446.06" y2="968.9" stroke="#000" stroke-width="1.2"/>
<line x1="450.14" y1="966.3" x2="450.14" y2="968.9" stroke="#000" stroke-width="1.2"/>
<line x1="454.22" y1="966.3" x2="454.22" y2="968.9" stroke="#000" stroke-width="1.2"/>
<line x1="458.3" y1="966.3" x2="458.3" y2="969.5" stroke="#000" stroke-width="1.5"/>
<line x1="462.38" y1="966.3" x2="462.38" y2="968.9" stroke="#000" stroke-width="1.2"/>
<line x1="466.46" y1="966.3" x2="466.46" y2="968.9" stroke="#000" stroke-width="1.2"/>
<line x1="470.54" y1="966.3" x2="470.54" y2="968.9" stroke="#000" stroke-width="1.2"/>
<line x1="474.62" y1="966.3" x2="474.62" y2="968.9" stroke="#000" stroke-width="1.2"/>
<line x1="478.7" y1="966.3" x2="478.7" y2="968.9" stroke="#000" stroke-width="1.2"/>
<line x1="482.78" y1="966.3" x2="482.78" y2="968.9" stroke="#000" stroke-width="1.2"/>
<line x1="486.86" y1="966.3" x2="486.86" y2="968.9" stroke="#000" stroke-width="1.2"/>
<line x1="490.94" y1="966.3" x2="490.94" y2="968.9" stroke="#000" stroke-width="1.2"/>
<line x1="495.02" y1="966.3" x2="495.02" y2="968.9" stroke="#000" stroke-width="1.2"/>
<line x1="499.1" y1="966.3" x2="499.1" y2="969.5" stroke="#000" stroke-width="1.5"/>
<text transform="translate(408.94,984.3) scale(0.84,1.0)" font-size="11.8" font-weight="bold" text-anchor="start" fill="#000">10</text>
<text transform="translate(420.46,980.3) scale(0.84,1.0)" font-size="7.5" font-weight="bold" text-anchor="start" fill="#000">-9</text>
<text transform="translate(449.74,984.3) scale(0.84,1.0)" font-size="11.8" font-weight="bold" text-anchor="start" fill="#000">10</text>
<text transform="translate(461.26,980.3) scale(0.84,1.0)" font-size="7.5" font-weight="bold" text-anchor="start" fill="#000">-8</text>
<text transform="translate(490.54,984.3) scale(0.84,1.0)" font-size="11.8" font-weight="bold" text-anchor="start" fill="#000">10</text>
<text transform="translate(502.06,980.3) scale(0.84,1.0)" font-size="7.5" font-weight="bold" text-anchor="start" fill="#000">-7</text>
<text transform="translate(448.5,826) scale(0.93,1.0)" font-size="17.5" stroke="#000" stroke-width="0.45" text-anchor="middle" fill="#000">OVA + R848</text>
<polyline points="393.2,966.3 410,952.36" fill="none" stroke="#000" stroke-width="1.7" stroke-linejoin="round"/>
<polyline points="417.5,946.14 425.5,939.5" fill="none" stroke="#000" stroke-width="1.7" stroke-linejoin="round"/>
<polyline points="425.5,939.5 437.6,908.5 450.6,885.3 462.9,908.5 475.6,885 488.2,902.5" fill="none" stroke="#000" stroke-width="1.7" stroke-linejoin="round"/>
<polyline points="393.2,966.3 410,966.3" fill="none" stroke="#000" stroke-width="1.5" stroke-linejoin="round" stroke-dasharray="3,2"/>
<polyline points="417.5,966.3 425.5,966.3" fill="none" stroke="#000" stroke-width="1.5" stroke-linejoin="round" stroke-dasharray="3,2"/>
<polyline points="425.5,966.3 437.6,966.3 450.6,962 462.9,966.3 475.6,966.3 488.2,955.8" fill="none" stroke="#000" stroke-width="1.5" stroke-linejoin="round" stroke-dasharray="3,2"/>
<path d="M425.5,924.5V954.5M421.5,924.5H429.5M421.5,954.5H429.5" stroke="#000" stroke-width="1.35" fill="none"/>
<path d="M437.6,898.6V918.7M433.6,898.6H441.6M433.6,918.7H441.6" stroke="#000" stroke-width="1.35" fill="none"/>
<path d="M450.6,878.6V890M446.6,878.6H454.6M446.6,890H454.6" stroke="#000" stroke-width="1.35" fill="none"/>
<path d="M462.9,897V920M458.9,897H466.9M458.9,920H466.9" stroke="#000" stroke-width="1.35" fill="none"/>
<path d="M475.6,879.3V890M471.6,879.3H479.6M471.6,890H479.6" stroke="#000" stroke-width="1.35" fill="none"/>
<path d="M488.2,892V913M484.2,892H492.2M484.2,913H492.2" stroke="#000" stroke-width="1.35" fill="none"/>
<path d="M488.2,952V960M484.2,952H492.2M484.2,960H492.2" stroke="#000" stroke-width="1.35" fill="none"/>
<circle cx="425.5" cy="966.3" r="3.6" fill="none" stroke="#000" stroke-width="1.3"/>
<circle cx="437.6" cy="966.3" r="3.6" fill="none" stroke="#000" stroke-width="1.3"/>
<circle cx="450.6" cy="962" r="3.6" fill="none" stroke="#000" stroke-width="1.3"/>
<circle cx="462.9" cy="966.3" r="3.6" fill="none" stroke="#000" stroke-width="1.3"/>
<circle cx="475.6" cy="966.3" r="3.6" fill="none" stroke="#000" stroke-width="1.3"/>
<circle cx="488.2" cy="955.8" r="3.6" fill="none" stroke="#000" stroke-width="1.3"/>
<circle cx="425.5" cy="939.5" r="4.4" fill="#000"/>
<circle cx="437.6" cy="908.5" r="4.4" fill="#000"/>
<circle cx="450.6" cy="885.3" r="4.4" fill="#000"/>
<circle cx="462.9" cy="908.5" r="4.4" fill="#000"/>
<circle cx="475.6" cy="885" r="4.4" fill="#000"/>
<circle cx="488.2" cy="902.5" r="4.4" fill="#000"/>
<circle cx="393.2" cy="966.3" r="4.4" fill="#000"/>
<line x1="84.2" y1="986.7" x2="504.6" y2="986.7" stroke="#aaaaaa" stroke-width="1.8"/>
<text transform="translate(288.25,1006.8) scale(0.905,1.0)" font-size="18" stroke="#000" stroke-width="0.45" text-anchor="middle" fill="#000">OVA epitope (molar)</text>
</svg></body></html>
